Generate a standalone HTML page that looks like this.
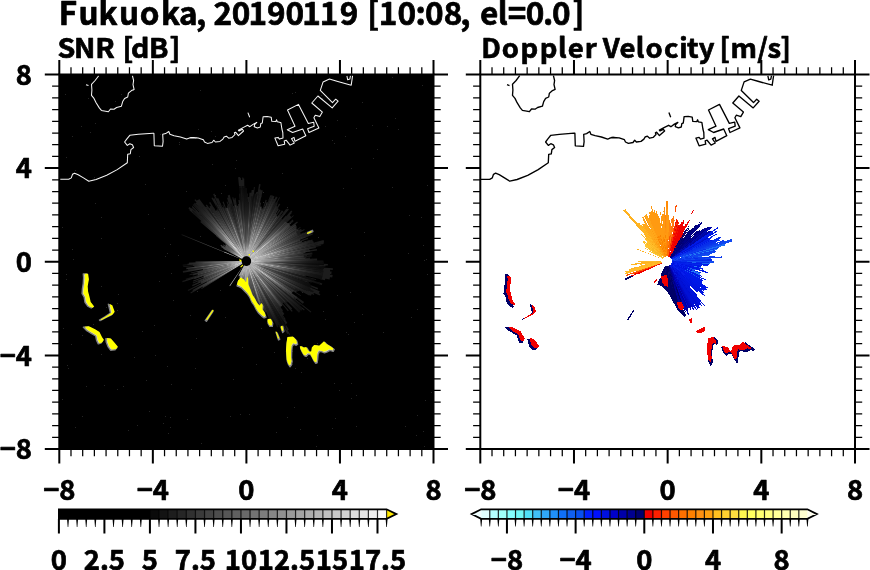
<!DOCTYPE html>
<html><head><meta charset="utf-8"><title>Fukuoka radar</title>
<style>html,body{margin:0;padding:0;background:#fff}svg{display:block}text{stroke:#000;stroke-width:.7px;stroke-linejoin:round}</style></head>
<body>
<svg width="870" height="570" viewBox="0 0 870 570" font-family='"Noto Sans CJK JP","Liberation Sans",sans-serif' font-weight="bold" fill="#000">
<rect width="870" height="570" fill="#fff"/>
<text transform="scale(0.99,1)" y="24.6" font-size="31.8" x="59.4 79.2 99.6 120.1 141.2 162.6 180.8 197.9 208.3 215.7 234.1 250.9 269.7 288.5 305.2 323.0 343.3 362.1 370.9 382.7 401.5 419.7 429.4 448.3 465.0 475.3 484.8 502.8 513.0 531.1 548.6 557.5 578.3">Fukuoka, 20190119 [10:08, el=0.0]</text>
<text transform="scale(1.05,1)" y="58.4" font-size="27.2" x="54.7 70.6 90.8 109.4 116.6 124.7 141.8 161.4">SNR [dB]</text>
<text transform="scale(1.01,1)" y="58.4" font-size="27.2" x="476.5 496.8 515.4 534.3 552.4 562.1 579.0 590.8 596.7 613.3 629.4 639.2 657.4 672.5 680.3 691.9 707.5 712.3 723.3 749.8 760.0 772.7">Doppler Velocity [m/s]</text>
<rect x="59.3" y="74.5" width="374.2" height="374.5" fill="#000"/>
<clipPath id="cl"><rect x="59.3" y="74.5" width="374.2" height="374.5"/></clipPath>
<clipPath id="cr"><rect x="480.3" y="74.5" width="374.7" height="374.5"/></clipPath>
<path d="M292,351h1v1h-1zM356,426h1v1h-1zM335,418h1v1h-1zM72,249h1v1h-1zM411,317h1v1h-1zM395,118h1v1h-1zM235,168h1v1h-1zM263,289h1v1h-1zM66,157h1v1h-1zM165,416h1v1h-1zM345,136h1v1h-1zM356,128h1v1h-1zM290,123h1v1h-1zM62,399h1v1h-1zM139,156h1v1h-1zM425,400h1v1h-1zM168,433h1v1h-1zM261,328h1v1h-1zM137,425h1v1h-1zM317,435h1v1h-1zM392,187h1v1h-1zM195,138h1v1h-1zM115,101h1v1h-1zM173,300h1v1h-1zM63,328h1v1h-1zM186,191h1v1h-1zM364,255h1v1h-1zM178,255h1v1h-1zM322,98h1v1h-1zM422,85h1v1h-1zM339,390h1v1h-1zM68,368h1v1h-1zM197,291h1v1h-1zM65,94h1v1h-1zM128,430h1v1h-1zM134,357h1v1h-1zM405,426h1v1h-1zM189,208h1v1h-1zM256,364h1v1h-1zM101,354h1v1h-1zM356,395h1v1h-1zM75,427h1v1h-1zM95,203h1v1h-1zM287,417h1v1h-1zM187,419h1v1h-1zM263,192h1v1h-1zM179,142h1v1h-1zM90,132h1v1h-1zM316,446h1v1h-1zM121,94h1v1h-1zM427,274h1v1h-1zM212,164h1v1h-1zM281,383h1v1h-1zM230,233h1v1h-1zM82,416h1v1h-1zM73,259h1v1h-1zM372,125h1v1h-1zM332,428h1v1h-1zM295,368h1v1h-1zM101,238h1v1h-1zM117,389h1v1h-1zM170,244h1v1h-1zM431,392h1v1h-1zM423,245h1v1h-1zM242,347h1v1h-1zM239,184h1v1h-1zM211,131h1v1h-1zM201,443h1v1h-1zM417,309h1v1h-1zM246,202h1v1h-1zM94,177h1v1h-1zM351,398h1v1h-1zM195,368h1v1h-1zM348,334h1v1h-1zM307,358h1v1h-1zM196,338h1v1h-1zM165,256h1v1h-1zM346,332h1v1h-1zM170,427h1v1h-1zM302,292h1v1h-1zM66,279h1v1h-1zM154,325h1v1h-1zM233,379h1v1h-1zM301,372h1v1h-1zM190,315h1v1h-1zM334,383h1v1h-1zM191,389h1v1h-1zM383,332h1v1h-1zM423,431h1v1h-1zM253,273h1v1h-1zM123,386h1v1h-1zM408,253h1v1h-1zM317,343h1v1h-1zM332,140h1v1h-1zM350,292h1v1h-1zM308,232h1v1h-1zM292,364h1v1h-1zM297,343h1v1h-1zM72,136h1v1h-1zM225,317h1v1h-1zM142,331h1v1h-1zM295,92h1v1h-1zM236,160h1v1h-1zM81,126h1v1h-1zM179,144h1v1h-1zM133,90h1v1h-1zM234,217h1v1h-1zM288,295h1v1h-1zM149,411h1v1h-1zM62,227h1v1h-1zM164,228h1v1h-1zM104,385h1v1h-1zM200,90h1v1h-1zM288,112h1v1h-1zM263,202h1v1h-1zM276,432h1v1h-1zM364,232h1v1h-1zM362,314h1v1h-1zM198,129h1v1h-1zM282,285h1v1h-1zM416,435h1v1h-1zM287,207h1v1h-1zM392,77h1v1h-1zM101,286h1v1h-1zM289,129h1v1h-1zM294,407h1v1h-1zM200,236h1v1h-1zM145,184h1v1h-1zM421,217h1v1h-1zM417,415h1v1h-1zM282,173h1v1h-1zM424,260h1v1h-1zM215,195h1v1h-1zM426,259h1v1h-1zM167,253h1v1h-1zM106,307h1v1h-1zM225,185h1v1h-1zM351,383h1v1h-1zM66,274h1v1h-1zM163,423h1v1h-1zM351,168h1v1h-1zM160,134h1v1h-1zM427,185h1v1h-1zM286,252h1v1h-1zM300,300h1v1h-1zM337,120h1v1h-1zM343,188h1v1h-1zM259,201h1v1h-1zM171,273h1v1h-1zM233,210h1v1h-1zM337,295h1v1h-1zM75,170h1v1h-1zM230,416h1v1h-1zM390,279h1v1h-1zM67,365h1v1h-1zM220,290h1v1h-1zM323,311h1v1h-1zM240,414h1v1h-1zM204,222h1v1h-1zM377,149h1v1h-1zM171,384h1v1h-1zM86,386h1v1h-1zM318,237h1v1h-1zM167,366h1v1h-1zM398,129h1v1h-1zM238,280h1v1h-1zM246,199h1v1h-1zM118,294h1v1h-1zM362,102h1v1h-1zM146,380h1v1h-1zM354,322h1v1h-1zM71,344h1v1h-1zM424,446h1v1h-1zM321,95h1v1h-1zM373,158h1v1h-1zM300,429h1v1h-1zM325,126h1v1h-1zM170,417h1v1h-1zM117,303h1v1h-1zM215,136h1v1h-1zM292,93h1v1h-1zM101,217h1v1h-1zM88,98h1v1h-1zM274,352h1v1h-1zM387,126h1v1h-1zM221,193h1v1h-1zM284,258h1v1h-1zM409,215h1v1h-1zM82,335h1v1h-1zM117,310h1v1h-1zM249,414h1v1h-1zM267,307h1v1h-1zM159,281h1v1h-1zM155,355h1v1h-1zM253,126h1v1h-1zM148,214h1v1h-1zM334,143h1v1h-1zM325,319h1v1h-1zM93,324h1v1h-1zM95,123h1v1h-1z" fill="#242424"/>
<g clip-path="url(#cl)">
<path d="M98.7,75.7 L95.1,80.5 L91.5,84.3 L91.9,90.0 L91.5,95.3 L94.0,98.4 L96.1,102.7 L99.3,107.9 L101.4,110.4 L108.4,111.7 L110.5,109.0 L114.0,109.2 L116.6,107.5 L121.4,106.2 L122.7,101.6 L124.6,98.4 L127.7,97.0 L128.4,93.2 L131.5,90.6 L134.1,89.4 L133.0,84.7 L133.6,80.5 L132.4,75.7 M86.0,84.7 L88.5,85.6 M59.9,179.3 L68.7,179.3 L71.3,177.9 L72.5,174.3 L74.6,173.2 L78.2,174.7 L83.5,177.9 L88.8,181.2 L96.1,179.5 L106.7,175.3 L117.2,169.6 L127.3,162.7 L127.7,154.3 L130.3,153.8 L130.9,149.6 L133.6,147.5 L132.4,144.8 L129.8,143.7 L127.3,145.4 L124.6,142.0 L126.7,139.1 L129.8,135.3 L138.3,134.3 L153.0,133.2 L153.9,133.2 L154.3,145.8 L162.5,146.3 L163.1,141.6 L162.7,134.3 L165.6,133.6 L168.8,131.5 L169.9,134.3 L174.1,135.7 L180.4,137.0 L186.7,139.1 L190.9,137.4 L197.2,137.8 L189.0,137.9 L192.4,137.4 L198.2,137.9 L203.4,139.7 L204.5,142.0 L207.4,143.4 L212.0,142.5 L213.7,140.2 L215.4,142.0 L220.0,141.4 L222.9,139.1 L224.1,137.0 L226.4,136.2 L228.7,138.2 L232.1,137.4 L235.0,134.5 L234.4,132.8 L235.6,132.2 L238.4,135.6 L243.6,131.0 L242.4,129.3 L239.0,131.0 L238.4,130.1 L243.0,127.6 L247.6,125.3 L249.9,126.7 L253.4,124.1 L256.8,122.4 L254.5,124.7 L254.3,126.7 L257.4,127.9 L260.3,127.0 L260.8,123.6 L262.3,123.0 L263.1,116.7 L267.2,116.4 L271.2,117.2 L271.8,121.3 L275.8,121.6 L276.6,119.8 L277.3,121.8 L280.4,122.4 L280.9,122.7 L281.9,129.0 L282.8,132.5 L283.0,138.1 L279.5,139.1 L278.1,137.4 L274.9,138.1 L278.1,145.8 L284.7,144.2 L284.2,140.9 L286.1,140.2 L290.1,145.1 L294.3,143.0 L291.5,138.8 L294.0,137.4 L295.0,141.3 L305.8,135.7 L302.7,129.0 L292.6,132.5 L287.3,129.7 L295.0,126.2 L287.5,110.0 L298.5,104.4 L308.3,123.4 L313.7,122.2 L314.2,126.2 L307.6,128.7 L309.0,132.5 L318.9,127.9 L313.9,117.8 L315.3,115.2 L319.8,116.6 L322.4,112.1 L311.8,103.0 L317.9,96.0 L332.2,107.9 L338.1,101.2 L335.7,99.2 L332.5,102.6 L320.3,90.4 L323.1,81.9 L329.4,79.1 L337.8,81.5 L351.2,85.2 L352.6,75.6 M247.9,112.6 L249.7,117.2 M346.9,75.9 L347.7,79.8 L349.8,79.1 L350.5,75.6" fill="none" stroke="#f4f4f4" stroke-width="1.05" stroke-linejoin="round"/>
</g>
<g clip-path="url(#cr)">
<path d="M519.7,75.7 L516.1,80.5 L512.5,84.3 L512.9,90.0 L512.5,95.3 L515.0,98.4 L517.1,102.7 L520.3,107.9 L522.4,110.4 L529.4,111.7 L531.5,109.0 L535.0,109.2 L537.6,107.5 L542.4,106.2 L543.7,101.6 L545.6,98.4 L548.7,97.0 L549.4,93.2 L552.5,90.6 L555.1,89.4 L554.0,84.7 L554.6,80.5 L553.4,75.7 M507.0,84.7 L509.5,85.6 M480.9,179.3 L489.7,179.3 L492.3,177.9 L493.5,174.3 L495.6,173.2 L499.2,174.7 L504.5,177.9 L509.8,181.2 L517.1,179.5 L527.7,175.3 L538.2,169.6 L548.3,162.7 L548.7,154.3 L551.3,153.8 L551.9,149.6 L554.6,147.5 L553.4,144.8 L550.8,143.7 L548.3,145.4 L545.6,142.0 L547.7,139.1 L550.8,135.3 L559.3,134.3 L574.0,133.2 L574.9,133.2 L575.3,145.8 L583.5,146.3 L584.1,141.6 L583.7,134.3 L586.6,133.6 L589.8,131.5 L590.9,134.3 L595.1,135.7 L601.4,137.0 L607.7,139.1 L611.9,137.4 L618.2,137.8 L610.0,137.9 L613.4,137.4 L619.2,137.9 L624.4,139.7 L625.5,142.0 L628.4,143.4 L633.0,142.5 L634.7,140.2 L636.4,142.0 L641.0,141.4 L643.9,139.1 L645.1,137.0 L647.4,136.2 L649.7,138.2 L653.1,137.4 L656.0,134.5 L655.4,132.8 L656.6,132.2 L659.4,135.6 L664.6,131.0 L663.4,129.3 L660.0,131.0 L659.4,130.1 L664.0,127.6 L668.6,125.3 L670.9,126.7 L674.4,124.1 L677.8,122.4 L675.5,124.7 L675.3,126.7 L678.4,127.9 L681.3,127.0 L681.8,123.6 L683.3,123.0 L684.1,116.7 L688.2,116.4 L692.2,117.2 L692.8,121.3 L696.8,121.6 L697.6,119.8 L698.3,121.8 L701.4,122.4 L701.9,122.7 L702.9,129.0 L703.8,132.5 L704.0,138.1 L700.5,139.1 L699.1,137.4 L695.9,138.1 L699.1,145.8 L705.7,144.2 L705.2,140.9 L707.1,140.2 L711.1,145.1 L715.3,143.0 L712.5,138.8 L715.0,137.4 L716.0,141.3 L726.8,135.7 L723.7,129.0 L713.6,132.5 L708.3,129.7 L716.0,126.2 L708.5,110.0 L719.5,104.4 L729.3,123.4 L734.7,122.2 L735.2,126.2 L728.6,128.7 L730.0,132.5 L739.9,127.9 L734.9,117.8 L736.3,115.2 L740.8,116.6 L743.4,112.1 L732.8,103.0 L738.9,96.0 L753.2,107.9 L759.1,101.2 L756.7,99.2 L753.5,102.6 L741.3,90.4 L744.1,81.9 L750.4,79.1 L758.8,81.5 L772.2,85.2 L773.6,75.6 M668.9,112.6 L670.7,117.2 M767.9,75.9 L768.7,79.8 L770.8,79.1 L771.5,75.6" fill="none" stroke="#000" stroke-width="1.35" stroke-linejoin="round"/>
</g>
<defs><radialGradient id="g0" gradientUnits="userSpaceOnUse" cx="246.4" cy="261.1" r="96"><stop offset="0.000" stop-color="#ffffff"/><stop offset="0.052" stop-color="#f5f5f5"/><stop offset="0.104" stop-color="#bcbcbc"/><stop offset="0.156" stop-color="#808080"/><stop offset="0.208" stop-color="#5a5a5a"/><stop offset="0.260" stop-color="#4f4f4f"/><stop offset="0.312" stop-color="#444444"/><stop offset="0.365" stop-color="#383838"/><stop offset="0.417" stop-color="#2e2e2e"/><stop offset="0.469" stop-color="#242424"/><stop offset="0.521" stop-color="#1d1d1d"/><stop offset="0.573" stop-color="#171717"/><stop offset="0.625" stop-color="#121212"/><stop offset="0.677" stop-color="#0e0e0e"/><stop offset="0.729" stop-color="#0b0b0b"/><stop offset="0.833" stop-color="#070707"/><stop offset="1.000" stop-color="#030303"/></radialGradient><radialGradient id="g1" gradientUnits="userSpaceOnUse" cx="246.4" cy="261.1" r="96"><stop offset="0.000" stop-color="#ffffff"/><stop offset="0.052" stop-color="#ffffff"/><stop offset="0.104" stop-color="#d6d6d6"/><stop offset="0.156" stop-color="#989898"/><stop offset="0.208" stop-color="#707070"/><stop offset="0.260" stop-color="#636363"/><stop offset="0.312" stop-color="#555555"/><stop offset="0.365" stop-color="#464646"/><stop offset="0.417" stop-color="#393939"/><stop offset="0.469" stop-color="#2e2e2e"/><stop offset="0.521" stop-color="#242424"/><stop offset="0.573" stop-color="#1c1c1c"/><stop offset="0.625" stop-color="#161616"/><stop offset="0.677" stop-color="#111111"/><stop offset="0.729" stop-color="#0e0e0e"/><stop offset="0.833" stop-color="#080808"/><stop offset="1.000" stop-color="#040404"/></radialGradient><radialGradient id="g2" gradientUnits="userSpaceOnUse" cx="246.4" cy="261.1" r="96"><stop offset="0.000" stop-color="#ffffff"/><stop offset="0.052" stop-color="#ffffff"/><stop offset="0.104" stop-color="#f0f0f0"/><stop offset="0.156" stop-color="#b1b1b1"/><stop offset="0.208" stop-color="#878787"/><stop offset="0.260" stop-color="#777777"/><stop offset="0.312" stop-color="#666666"/><stop offset="0.365" stop-color="#555555"/><stop offset="0.417" stop-color="#454545"/><stop offset="0.469" stop-color="#373737"/><stop offset="0.521" stop-color="#2c2c2c"/><stop offset="0.573" stop-color="#222222"/><stop offset="0.625" stop-color="#1b1b1b"/><stop offset="0.677" stop-color="#151515"/><stop offset="0.729" stop-color="#111111"/><stop offset="0.833" stop-color="#0a0a0a"/><stop offset="1.000" stop-color="#050505"/></radialGradient><radialGradient id="g3" gradientUnits="userSpaceOnUse" cx="246.4" cy="261.1" r="96"><stop offset="0.000" stop-color="#ffffff"/><stop offset="0.052" stop-color="#ffffff"/><stop offset="0.104" stop-color="#fafafa"/><stop offset="0.156" stop-color="#cacaca"/><stop offset="0.208" stop-color="#9e9e9e"/><stop offset="0.260" stop-color="#8b8b8b"/><stop offset="0.312" stop-color="#777777"/><stop offset="0.365" stop-color="#636363"/><stop offset="0.417" stop-color="#505050"/><stop offset="0.469" stop-color="#404040"/><stop offset="0.521" stop-color="#333333"/><stop offset="0.573" stop-color="#282828"/><stop offset="0.625" stop-color="#1f1f1f"/><stop offset="0.677" stop-color="#181818"/><stop offset="0.729" stop-color="#131313"/><stop offset="0.833" stop-color="#0c0c0c"/><stop offset="1.000" stop-color="#050505"/></radialGradient><radialGradient id="g4" gradientUnits="userSpaceOnUse" cx="246.4" cy="261.1" r="96"><stop offset="0.000" stop-color="#ffffff"/><stop offset="0.052" stop-color="#ffffff"/><stop offset="0.104" stop-color="#fafafa"/><stop offset="0.156" stop-color="#e2e2e2"/><stop offset="0.208" stop-color="#b4b4b4"/><stop offset="0.260" stop-color="#9f9f9f"/><stop offset="0.312" stop-color="#888888"/><stop offset="0.365" stop-color="#717171"/><stop offset="0.417" stop-color="#5c5c5c"/><stop offset="0.469" stop-color="#494949"/><stop offset="0.521" stop-color="#3a3a3a"/><stop offset="0.573" stop-color="#2e2e2e"/><stop offset="0.625" stop-color="#242424"/><stop offset="0.677" stop-color="#1c1c1c"/><stop offset="0.729" stop-color="#161616"/><stop offset="0.833" stop-color="#0e0e0e"/><stop offset="1.000" stop-color="#060606"/></radialGradient><radialGradient id="g5" gradientUnits="userSpaceOnUse" cx="246.4" cy="261.1" r="96"><stop offset="0.000" stop-color="#ffffff"/><stop offset="0.052" stop-color="#ffffff"/><stop offset="0.104" stop-color="#fafafa"/><stop offset="0.156" stop-color="#ebebeb"/><stop offset="0.208" stop-color="#cbcbcb"/><stop offset="0.260" stop-color="#b3b3b3"/><stop offset="0.312" stop-color="#999999"/><stop offset="0.365" stop-color="#7f7f7f"/><stop offset="0.417" stop-color="#676767"/><stop offset="0.469" stop-color="#535353"/><stop offset="0.521" stop-color="#424242"/><stop offset="0.573" stop-color="#333333"/><stop offset="0.625" stop-color="#282828"/><stop offset="0.677" stop-color="#202020"/><stop offset="0.729" stop-color="#191919"/><stop offset="0.833" stop-color="#101010"/><stop offset="1.000" stop-color="#070707"/></radialGradient><radialGradient id="g6" gradientUnits="userSpaceOnUse" cx="246.4" cy="261.1" r="96"><stop offset="0.000" stop-color="#ffffff"/><stop offset="0.052" stop-color="#ffffff"/><stop offset="0.104" stop-color="#fafafa"/><stop offset="0.156" stop-color="#ebebeb"/><stop offset="0.208" stop-color="#d7d7d7"/><stop offset="0.260" stop-color="#bebebe"/><stop offset="0.312" stop-color="#a2a2a2"/><stop offset="0.365" stop-color="#878787"/><stop offset="0.417" stop-color="#6e6e6e"/><stop offset="0.469" stop-color="#585858"/><stop offset="0.521" stop-color="#464646"/><stop offset="0.573" stop-color="#373737"/><stop offset="0.625" stop-color="#2b2b2b"/><stop offset="0.677" stop-color="#222222"/><stop offset="0.729" stop-color="#1b1b1b"/><stop offset="0.833" stop-color="#111111"/><stop offset="1.000" stop-color="#080808"/></radialGradient><radialGradient id="g7" gradientUnits="userSpaceOnUse" cx="246.4" cy="261.1" r="96"><stop offset="0.000" stop-color="#ffffff"/><stop offset="0.052" stop-color="#ffffff"/><stop offset="0.104" stop-color="#fafafa"/><stop offset="0.156" stop-color="#ebebeb"/><stop offset="0.208" stop-color="#d7d7d7"/><stop offset="0.260" stop-color="#bebebe"/><stop offset="0.312" stop-color="#a2a2a2"/><stop offset="0.365" stop-color="#878787"/><stop offset="0.417" stop-color="#6e6e6e"/><stop offset="0.469" stop-color="#585858"/><stop offset="0.521" stop-color="#464646"/><stop offset="0.573" stop-color="#373737"/><stop offset="0.625" stop-color="#2b2b2b"/><stop offset="0.677" stop-color="#222222"/><stop offset="0.729" stop-color="#1b1b1b"/><stop offset="0.833" stop-color="#111111"/><stop offset="1.000" stop-color="#080808"/></radialGradient></defs>
<g clip-path="url(#cl)">
<path d="M194.4,214.7L189.2,210.0L189.8,209.3L195.0,214.1ZM193.1,212.5L188.3,208.2L189.6,206.9L194.2,211.4ZM195.5,212.8L191.2,208.6L191.9,208.0L196.1,212.1ZM201.5,217.5L195.7,211.9L196.3,211.3L202.0,217.0ZM200.3,215.4L191.8,207.0L192.6,206.1L201.0,214.6ZM199.1,207.6L195.4,203.3L196.5,202.4L200.2,206.7ZM201.3,208.2L194.4,200.1L195.4,199.3L202.1,207.5ZM203.6,209.4L196.4,200.7L197.3,200.0L204.4,208.7ZM204.8,209.4L197.5,200.4L199.3,199.0L206.3,208.2ZM208.2,210.8L205.6,207.4L206.8,206.5L209.3,210.0ZM209.5,210.4L205.8,205.3L206.8,204.5L210.5,209.7ZM213.8,214.6L209.3,208.2L210.1,207.6L214.5,214.1ZM212.8,211.8L209.4,206.7L211.0,205.6L214.3,210.8ZM213.4,209.6L209.0,202.7L210.3,201.9L214.6,208.9ZM218.2,213.5L216.1,209.9L217.6,209.1L219.6,212.7ZM216.2,206.6L211.4,198.0L212.6,197.4L217.2,206.1ZM216.5,204.9L213.2,198.8L214.4,198.1L217.5,204.3ZM217.9,203.9L213.1,194.2L214.4,193.5L219.0,203.3ZM220.5,206.6L216.6,198.6L217.4,198.2L221.1,206.3ZM220.5,205.1L217.4,198.5L218.2,198.1L221.2,204.8ZM224.2,209.5L222.4,205.2L223.1,204.9L224.9,209.2ZM225.8,210.3L222.5,202.1L223.6,201.6L226.8,209.9ZM229.1,209.3L226.6,201.8L227.5,201.5L229.9,209.1ZM229.9,209.1L228.2,204.0L228.9,203.8L230.5,208.9ZM229.7,206.7L227.0,197.8L228.4,197.4L231.0,206.4ZM230.7,205.9L227.7,195.4L229.7,194.8L232.4,205.5ZM233.0,208.5L230.8,199.6L231.5,199.4L233.7,208.3ZM234.1,205.5L232.3,197.4L233.3,197.2L235.0,205.3ZM235.3,207.3L233.7,199.6L234.9,199.4L236.3,207.1ZM236.4,207.9L234.5,197.9L235.5,197.7L237.2,207.8ZM239.2,188.1L238.1,177.3L240.0,177.1L240.8,188.0ZM240.7,188.1L239.9,177.8L240.9,177.7L241.6,188.0ZM241.5,188.1L240.9,180.1L242.5,180.0L242.9,188.0ZM242.8,188.1L242.2,177.6L243.3,177.6L243.7,188.1ZM243.5,188.1L243.2,178.6L244.2,178.6L244.4,188.1ZM246.8,198.7L246.8,193.4L247.6,193.4L247.5,198.7ZM247.3,203.9L247.5,196.9L249.4,196.9L249.0,204.0ZM249.2,198.3L249.4,192.7L251.5,192.8L251.1,198.4ZM251.0,198.2L251.6,189.9L253.7,190.1L252.8,198.4ZM252.9,196.5L253.9,187.0L254.8,187.1L253.7,196.6ZM255.7,196.1L256.3,191.9L257.9,192.1L257.2,196.3ZM257.6,193.3L259.1,183.9L260.6,184.2L258.9,193.5ZM258.1,197.0L259.5,189.2L260.9,189.4L259.3,197.3ZM259.2,197.3L260.7,190.0L262.8,190.5L261.1,197.8ZM262.0,211.1L265.6,199.7L266.8,200.0L263.0,211.4ZM268.4,200.5L270.3,195.2L271.4,195.6L269.4,200.8ZM271.4,203.3L273.4,198.5L274.8,199.2L272.7,203.9ZM273.3,202.1L275.9,196.4L276.9,196.9L274.3,202.6ZM273.8,203.3L276.8,196.9L277.6,197.2L274.5,203.6ZM276.0,203.4L279.2,197.2L279.9,197.6L276.7,203.8ZM275.7,209.4L279.0,203.5L280.3,204.3L276.9,210.1ZM275.2,216.0L279.4,209.5L280.5,210.2L276.2,216.7ZM277.3,216.8L281.9,210.3L283.4,211.4L278.6,217.8ZM282.9,213.3L286.3,208.8L287.1,209.5L283.7,213.8ZM283.2,214.2L287.7,208.5L288.9,209.4L284.3,215.1ZM285.3,217.2L291.2,210.5L292.4,211.6L286.3,218.1ZM285.6,218.6L291.2,212.6L291.8,213.1L286.2,219.1ZM283.0,222.3L289.7,215.2L290.8,216.2L283.9,223.1ZM284.0,222.9L290.6,216.2L291.5,217.0L284.7,223.7ZM284.7,223.5L293.2,215.2L293.8,215.7L285.2,224.0ZM287.1,224.4L292.6,219.4L293.5,220.5L288.0,225.3ZM289.2,224.1L293.0,220.8L293.5,221.4L289.6,224.6ZM295.3,230.2L300.2,227.1L300.6,227.8L295.7,230.8ZM294.2,232.8L301.0,228.7L301.9,230.4L295.0,234.2ZM295.0,234.1L304.2,229.0L304.7,229.9L295.4,234.9ZM295.4,234.8L300.0,232.3L300.8,233.9L296.1,236.2ZM296.1,236.2L303.6,232.4L304.0,233.3L296.5,236.9ZM304.0,233.2L308.2,231.1L308.7,232.1L304.5,234.1ZM300.9,235.6L310.5,231.1L311.4,233.0L301.7,237.2ZM300.6,237.6L309.6,233.7L309.9,234.5L300.9,238.2ZM303.4,237.1L312.4,233.3L312.9,234.6L303.8,238.2ZM301.6,240.1L307.7,237.8L308.1,238.9L302.0,241.1ZM304.0,241.7L309.3,239.9L309.5,240.7L304.2,242.4ZM307.8,241.1L312.3,239.6L312.9,241.6L308.4,242.9ZM305.7,243.6L313.4,241.3L313.9,242.8L306.0,245.0ZM315.3,242.3L323.6,240.1L324.2,242.4L315.8,244.4ZM313.8,244.7L323.4,242.4L323.7,243.9L314.1,246.0ZM308.0,250.4L316.8,248.9L317.1,250.5L308.2,251.8ZM301.7,255.4L307.0,254.9L307.1,255.8L301.8,256.3ZM301.8,256.2L311.6,255.3L311.7,256.4L301.9,257.1ZM301.8,257.0L306.3,256.6L306.4,257.8L301.9,258.0ZM303.3,257.9L310.1,257.5L310.2,258.9L303.3,259.2ZM311.3,258.8L317.1,258.6L317.1,260.7L311.3,260.7ZM322.1,263.7L327.9,263.9L327.8,265.4L322.1,265.1ZM317.4,264.8L325.5,265.2L325.4,266.4L317.3,265.9ZM321.9,267.4L332.9,268.3L332.7,269.9L321.8,268.8ZM321.2,268.6L330.2,269.5L330.0,271.4L321.0,270.3ZM321.6,270.3L331.7,271.5L331.3,274.0L321.3,272.5ZM321.3,272.4L330.1,273.7L330.0,274.7L321.2,273.3ZM321.2,273.1L332.7,275.0L332.2,277.6L320.8,275.4ZM320.7,275.2L330.0,277.0L329.5,279.5L320.3,277.4ZM320.1,277.2L325.3,278.4L324.8,280.2L319.7,278.9ZM309.3,277.4L316.2,279.2L316.0,280.1L309.1,278.2ZM318.3,282.2L322.3,283.4L321.7,285.1L317.8,283.8ZM303.6,280.1L308.8,281.8L308.4,283.0L303.2,281.2ZM309.7,284.8L318.1,288.0L317.6,289.4L309.3,286.1ZM308.7,286.7L319.7,291.3L318.8,293.4L307.9,288.6ZM312.0,290.2L320.4,294.0L319.6,295.6L311.3,291.7ZM307.3,289.7L313.9,292.8L313.4,293.8L306.8,290.6ZM303.6,288.9L314.3,294.1L313.9,295.0L303.2,289.6ZM303.7,289.7L311.9,293.8L310.9,295.8L302.8,291.4ZM300.9,290.3L309.5,294.9L309.1,295.6L300.6,290.9ZM293.6,287.0L299.6,290.3L299.0,291.3L293.1,287.9ZM291.8,289.6L301.1,295.4L300.6,296.1L291.4,290.2ZM295.9,296.2L304.1,302.0L302.8,303.7L294.8,297.6ZM292.6,295.8L296.2,298.6L295.5,299.5L291.9,296.7ZM303.4,305.6L311.3,311.7L310.7,312.5L302.9,306.3ZM300.6,306.2L304.7,309.6L304.0,310.5L299.9,307.0ZM284.2,300.1L292.2,308.4L291.1,309.4L283.3,301.0ZM286.0,303.8L292.7,311.0L291.7,311.8L285.2,304.5ZM281.7,302.2L288.8,310.5L287.9,311.3L280.9,302.8ZM280.0,306.6L283.0,310.6L282.2,311.2L279.3,307.1ZM278.7,306.1L284.4,314.1L282.8,315.2L277.3,307.1ZM281.8,313.5L285.7,319.2L285.0,319.7L281.2,314.0ZM283.8,317.7L287.4,323.1L285.5,324.3L282.1,318.8ZM285.5,324.1L288.9,329.5L287.6,330.3L284.3,324.8ZM286.2,327.7L290.2,334.4L289.3,334.9L285.4,328.2ZM282.6,323.2L288.5,333.2L287.3,333.9L281.6,323.8Z" fill="#1c1c1c"/>
<path d="M242.4,259.0L223.1,248.7L223.4,248.2L242.5,258.9ZM242.5,258.9L221.1,247.0L221.5,246.2L242.5,258.8ZM242.5,258.8L220.4,245.6L220.7,245.0L242.6,258.7ZM242.6,258.7L220.8,245.1L221.0,244.8L242.6,258.7ZM242.6,258.7L223.3,246.3L223.5,246.1L242.6,258.6ZM242.6,258.6L225.4,247.4L225.6,247.1L242.7,258.6ZM242.7,258.6L225.2,246.8L225.3,246.5L242.7,258.5ZM242.7,258.5L222.9,244.9L223.3,244.4L242.8,258.5ZM242.7,258.5L225.2,245.9L225.5,245.5L242.8,258.4ZM242.8,258.4L225.7,245.7L226.0,245.3L242.8,258.3ZM242.9,258.2L216.0,236.1L216.4,235.7L243.0,258.2ZM244.2,257.2L215.2,204.9L216.3,204.3L244.3,257.1ZM244.6,257.0L223.4,207.7L224.1,207.4L244.7,256.9ZM245.2,256.8L230.2,204.0L231.9,203.6L245.3,256.7ZM245.3,256.7L232.5,206.5L233.2,206.3L245.3,256.7ZM246.0,256.6L239.0,186.1L240.7,186.0L246.1,256.6ZM246.2,256.6L243.5,186.1L244.4,186.1L246.3,256.6ZM246.3,256.6L244.2,186.1L245.4,186.1L246.3,256.6ZM246.3,256.6L245.3,188.1L247.0,188.1L246.4,256.6ZM246.4,256.6L246.8,196.7L247.6,196.7L246.5,256.6ZM246.5,256.6L247.4,201.9L249.1,202.0L246.6,256.6ZM246.9,256.6L253.1,194.5L253.9,194.6L246.9,256.6ZM249.1,257.5L280.5,215.1L281.2,215.7L249.1,257.5ZM249.3,257.6L281.5,218.3L282.7,219.4L249.4,257.7ZM250.9,261.3L324.1,263.7L324.0,265.2L250.9,261.3ZM250.8,262.2L311.2,277.9L311.0,278.7L250.7,262.3ZM250.7,262.3L314.7,279.6L314.3,281.1L250.7,262.4ZM250.6,262.6L310.7,283.7L310.2,285.1L250.6,262.7ZM250.6,262.7L311.6,285.5L311.1,286.8L250.6,262.8ZM250.6,262.8L313.1,287.4L312.6,288.5L250.6,262.8ZM250.4,263.1L305.4,289.8L305.0,290.5L250.4,263.1ZM249.9,263.9L300.9,304.5L299.9,305.7L249.9,264.0ZM249.6,264.2L288.0,301.8L286.8,303.0L249.5,264.3ZM248.8,264.9L286.6,325.8L285.3,326.6L248.7,265.0ZM248.7,265.0L283.6,324.9L282.6,325.5L248.6,265.0ZM248.6,265.0L283.4,326.6L282.6,327.0L248.6,265.0ZM247.5,265.5L256.7,301.1L256.1,301.2L247.5,265.5ZM247.4,265.5L255.7,303.1L255.0,303.2L247.3,265.5ZM247.3,265.5L254.5,300.3L253.3,300.5L247.2,265.5ZM247.2,265.5L253.0,298.2L252.4,298.3L247.1,265.5ZM247.1,265.5L251.9,294.8L251.1,294.9L247.0,265.6ZM247.0,265.6L251.5,297.4L251.0,297.5L247.0,265.6ZM247.0,265.6L250.9,296.8L250.4,296.9L246.9,265.6ZM246.6,265.6L247.5,290.8L247.0,290.8L246.5,265.6ZM245.8,265.6L243.2,284.6L242.8,284.6L245.7,265.5ZM245.6,265.5L242.2,283.5L241.9,283.4L245.5,265.5ZM245.4,265.5L242.1,279.8L241.7,279.7L245.3,265.5ZM244.7,265.3L239.7,278.1L239.3,278.0L244.7,265.2ZM244.7,265.2L240.1,276.2L239.8,276.1L244.6,265.2ZM244.5,265.2L239.7,275.7L239.6,275.6L244.5,265.2Z" fill="url(#g0)"/>
<path d="M242.8,258.3L225.4,244.9L225.9,244.3L242.9,258.2ZM243.7,257.5L207.0,209.2L208.2,208.4L243.8,257.5ZM245.1,256.8L229.1,204.8L230.4,204.5L245.2,256.8ZM245.4,256.7L233.7,203.5L234.6,203.4L245.5,256.7ZM245.6,256.7L236.0,206.0L236.9,205.8L245.6,256.7ZM246.1,256.6L241.4,186.1L242.8,186.0L246.2,256.6ZM246.2,256.6L242.7,186.1L243.6,186.1L246.2,256.6ZM246.7,256.6L251.1,196.2L253.0,196.4L246.9,256.6ZM246.9,256.6L253.5,196.9L254.3,197.0L247.0,256.6ZM247.0,256.6L256.0,194.1L257.5,194.3L247.1,256.7ZM250.9,261.5L323.9,267.5L323.8,269.0L250.9,261.6ZM250.7,262.5L305.5,280.7L305.1,281.8L250.6,262.6ZM250.3,263.3L298.0,290.6L297.1,292.1L250.2,263.4ZM249.5,264.4L287.4,305.2L286.5,306.0L249.4,264.5ZM249.4,264.5L283.4,302.4L282.4,303.2L249.3,264.5ZM249.3,264.5L283.0,303.7L282.1,304.4L249.3,264.6ZM248.6,265.0L283.1,327.7L281.8,328.4L248.5,265.1ZM248.3,265.2L274.1,320.3L272.3,321.1L248.2,265.2ZM248.2,265.2L273.7,324.1L272.7,324.5L248.1,265.3ZM247.6,265.4L259.4,308.1L258.5,308.4L247.5,265.5ZM246.0,265.6L244.1,285.5L243.4,285.4L245.8,265.6ZM245.7,265.5L243.1,283.0L242.8,283.0L245.7,265.5ZM245.0,265.4L240.5,278.8L240.3,278.7L244.9,265.3ZM242.6,263.5L201.7,289.1L201.2,288.2L242.5,263.4ZM242.4,263.2L207.2,282.3L206.8,281.5L242.4,263.2ZM242.3,262.8L193.1,283.5L192.7,282.4L242.2,262.8ZM242.1,262.4L186.0,280.0L185.6,278.8L242.1,262.4ZM242.0,261.8L188.1,270.4L187.9,269.0L241.9,261.7Z" fill="url(#g1)"/>
<path d="M243.0,258.2L200.2,222.1L201.4,220.8L243.0,258.1ZM244.5,257.0L219.6,204.8L220.3,204.5L244.5,257.0ZM244.9,256.9L226.8,205.7L227.9,205.3L245.0,256.8ZM245.0,256.8L229.3,207.2L229.9,207.0L245.1,256.8ZM245.3,256.7L233.0,206.1L234.3,205.8L245.4,256.7ZM245.6,256.7L236.8,205.9L238.5,205.6L245.8,256.6ZM245.9,256.6L239.0,193.7L239.8,193.6L246.0,256.6ZM246.9,256.6L254.6,193.4L256.2,193.6L247.0,256.6ZM247.9,256.9L269.1,198.6L270.1,198.9L248.0,256.9ZM248.4,257.1L275.0,202.3L276.4,202.9L248.5,257.1ZM248.8,257.3L276.3,214.3L277.3,215.0L248.9,257.4ZM249.1,257.5L284.1,211.7L284.9,212.3L249.2,257.6ZM249.3,257.7L285.8,215.7L286.3,216.2L249.4,257.7ZM249.4,257.7L286.7,215.7L287.7,216.6L249.5,257.8ZM249.5,257.8L287.0,217.2L287.5,217.7L249.5,257.8ZM249.5,257.8L284.4,220.8L285.3,221.7L249.6,257.9ZM250.9,261.1L323.9,261.6L323.8,263.9L250.9,261.3ZM250.7,262.5L311.9,281.8L311.5,282.8L250.7,262.5ZM250.6,262.8L310.6,287.5L309.8,289.4L250.5,262.9ZM250.5,262.9L313.8,291.0L313.1,292.6L250.5,263.0ZM250.5,263.0L309.1,290.5L308.6,291.5L250.4,263.1ZM250.4,263.2L302.7,291.2L302.3,291.9L250.3,263.3ZM249.7,264.1L300.2,309.8L299.6,310.4L249.7,264.2ZM249.1,264.7L281.2,308.2L280.4,308.7L249.0,264.8ZM249.0,264.8L279.9,307.7L278.5,308.7L248.9,264.8ZM248.7,265.0L287.2,329.4L286.4,329.9L248.7,265.0ZM248.1,265.3L270.5,318.8L269.2,319.3L248.0,265.3ZM248.0,265.3L266.4,312.0L264.9,312.6L247.9,265.3ZM247.7,265.4L258.9,303.4L258.1,303.7L247.6,265.4ZM247.5,265.5L256.9,304.4L255.9,304.6L247.4,265.5ZM246.9,265.6L250.2,294.4L249.2,294.5L246.8,265.6ZM245.9,265.6L243.5,285.1L243.1,285.1L245.8,265.6ZM245.7,265.5L242.7,283.8L242.1,283.7L245.6,265.5ZM245.5,265.5L242.4,281.0L241.8,280.8L245.4,265.5ZM245.3,265.5L241.2,281.7L240.8,281.6L245.2,265.4ZM242.4,263.2L188.3,291.1L187.7,290.0L242.4,263.1ZM242.4,263.1L201.3,283.4L200.8,282.3L242.3,263.0ZM242.3,263.0L192.6,286.3L192.0,284.9L242.3,262.9ZM242.1,262.3L192.9,275.5L192.7,274.4L242.0,262.2ZM242.0,262.2L189.6,275.3L189.4,274.5L242.0,262.1ZM242.0,262.1L197.6,272.7L197.3,271.8L242.0,262.1ZM242.0,262.1L191.2,273.2L191.0,272.4L242.0,262.0ZM241.9,261.6L194.4,267.0L194.3,266.0L241.9,261.5ZM241.9,261.5L183.4,267.1L183.3,266.2L241.9,261.5ZM241.9,261.4L182.8,265.6L182.7,264.7L241.9,261.4ZM241.9,261.4L187.6,264.5L187.5,263.7L241.9,261.3Z" fill="url(#g2)"/>
<path d="M243.0,258.1L192.9,213.4L193.5,212.7L243.1,258.1ZM243.1,258.1L191.7,211.2L192.8,210.0L243.1,258.0ZM243.2,257.9L198.8,213.9L199.6,213.2L243.3,257.9ZM243.9,257.4L211.7,210.1L213.2,209.1L244.0,257.3ZM244.0,257.3L212.3,208.0L213.6,207.2L244.1,257.3ZM244.1,257.2L217.2,211.8L218.7,210.9L244.2,257.2ZM244.4,257.1L217.7,204.9L218.4,204.6L244.4,257.1ZM244.5,257.0L219.6,203.3L220.4,203.0L244.6,257.0ZM244.6,257.0L222.2,207.4L223.2,206.9L244.6,257.0ZM244.7,256.9L225.1,208.5L226.1,208.1L244.8,256.9ZM245.0,256.8L228.5,207.4L229.3,207.2L245.0,256.8ZM245.8,256.6L238.1,204.0L239.0,203.9L245.8,256.6ZM245.8,256.6L238.4,200.1L239.8,199.9L245.9,256.6ZM246.6,256.6L249.3,196.3L251.2,196.4L246.7,256.6ZM247.2,256.7L258.5,195.1L259.7,195.3L247.3,256.7ZM247.4,256.7L259.9,202.4L261.2,202.7L247.5,256.7ZM247.6,256.8L261.3,208.2L262.9,208.6L247.7,256.8ZM248.5,257.1L276.9,201.6L277.6,202.0L248.5,257.1ZM248.6,257.2L276.7,207.6L277.9,208.3L248.7,257.2ZM249.0,257.4L278.5,215.2L279.8,216.2L249.1,257.5ZM249.2,257.6L284.5,212.7L285.5,213.5L249.3,257.6ZM250.4,259.1L297.9,235.3L298.3,236.1L250.5,259.1ZM250.5,259.2L302.7,234.8L303.5,236.4L250.5,259.3ZM250.6,259.5L303.5,239.4L303.9,240.5L250.6,259.6ZM250.9,260.5L312.2,252.5L312.5,254.4L250.9,260.6ZM250.9,260.8L303.8,256.8L303.9,257.9L250.9,260.9ZM250.9,261.3L319.4,264.9L319.3,266.0L250.9,261.4ZM250.9,261.4L324.0,266.2L323.9,267.7L250.9,261.5ZM250.9,261.6L323.2,268.8L323.0,270.6L250.9,261.7ZM250.8,261.9L322.7,275.6L322.2,277.8L250.8,262.1ZM250.8,262.1L322.1,277.7L321.7,279.4L250.8,262.2ZM250.7,262.4L320.3,282.8L319.7,284.4L250.7,262.5ZM250.3,263.3L295.4,288.0L294.9,288.9L250.3,263.3ZM249.9,264.0L302.1,307.5L301.4,308.3L249.8,264.0ZM249.8,264.0L302.6,309.2L301.2,310.8L249.7,264.1ZM249.7,264.2L300.5,311.1L299.0,312.7L249.6,264.3ZM249.5,264.3L285.6,301.6L284.6,302.5L249.5,264.4ZM248.9,264.9L284.9,319.4L283.1,320.5L248.8,264.9ZM248.5,265.1L281.1,326.8L279.6,327.6L248.4,265.1ZM248.4,265.1L278.4,324.8L277.6,325.2L248.4,265.1ZM248.4,265.1L278.5,326.8L277.2,327.4L248.3,265.2ZM247.9,265.3L263.5,308.4L262.6,308.7L247.8,265.4ZM246.8,265.6L249.2,294.6L248.2,294.7L246.6,265.6ZM246.2,265.6L245.0,288.5L244.6,288.5L246.1,265.6ZM245.2,265.4L240.9,281.5L240.6,281.4L245.2,265.4ZM245.2,265.4L240.9,280.6L240.5,280.5L245.1,265.4ZM245.1,265.4L240.7,280.0L240.3,279.9L245.0,265.4ZM245.0,265.4L240.6,279.3L240.4,279.2L245.0,265.4ZM244.9,265.3L240.2,278.1L240.0,278.0L244.8,265.3ZM244.4,265.1L238.9,276.3L238.7,276.2L244.4,265.1ZM242.5,263.4L203.1,287.2L202.8,286.6L242.5,263.4ZM242.5,263.4L190.9,293.6L190.3,292.5L242.5,263.3ZM242.5,263.3L193.0,291.1L192.4,290.1L242.4,263.2ZM242.3,262.9L198.6,282.1L198.2,281.2L242.2,262.8ZM242.2,262.7L193.2,281.6L192.9,280.8L242.2,262.7ZM242.2,262.7L203.7,276.9L203.3,275.9L242.1,262.6ZM242.1,262.5L182.6,282.3L182.2,281.0L242.1,262.4ZM242.1,262.4L197.9,275.3L197.6,274.1L242.1,262.3ZM242.0,262.0L203.2,270.0L203.0,268.9L242.0,261.9ZM242.0,261.9L183.1,272.7L182.8,271.1L242.0,261.8ZM241.9,261.2L195.6,262.6L195.5,261.6L241.9,261.1Z" fill="url(#g3)"/>
<path d="M244.1,257.3L215.7,211.0L216.5,210.5L244.1,257.2ZM244.3,257.1L215.5,203.1L216.6,202.5L244.4,257.1ZM244.4,257.1L217.0,202.1L218.2,201.5L244.5,257.0ZM244.7,256.9L224.5,208.6L225.2,208.4L244.7,256.9ZM246.1,256.6L240.6,186.1L241.5,186.0L246.1,256.6ZM247.7,256.8L262.6,209.2L263.6,209.5L247.8,256.8ZM248.0,256.9L271.4,195.0L272.7,195.5L248.1,256.9ZM248.3,257.0L274.6,201.5L275.4,201.8L248.4,257.1ZM248.5,257.1L276.9,203.1L277.8,203.6L248.6,257.2ZM248.6,257.1L276.4,205.9L277.5,206.5L248.6,257.2ZM248.7,257.2L277.8,208.3L278.8,208.9L248.8,257.3ZM249.9,258.3L297.1,221.4L297.9,222.4L250.0,258.4ZM250.4,259.0L297.1,233.8L297.9,235.4L250.4,259.1ZM250.9,260.9L313.3,258.7L313.3,260.7L250.9,261.1ZM250.9,261.1L323.4,260.5L323.4,261.7L250.9,261.1ZM250.9,261.6L323.6,270.5L323.3,272.8L250.8,261.8ZM250.8,262.2L305.9,275.4L305.6,276.6L250.8,262.2ZM250.4,263.1L305.5,290.6L304.6,292.4L250.4,263.2ZM250.2,263.4L296.6,291.7L296.1,292.5L250.2,263.5ZM250.2,263.5L293.6,291.4L293.0,292.3L250.1,263.6ZM249.9,263.9L305.0,306.8L304.4,307.5L249.9,263.9ZM249.3,264.6L282.7,304.8L282.1,305.3L249.2,264.6ZM248.9,264.8L283.0,315.2L282.3,315.6L248.9,264.9ZM246.4,265.6L246.3,286.3L245.8,286.3L246.3,265.6ZM244.9,265.4L240.3,278.7L240.0,278.6L244.9,265.3ZM244.8,265.3L239.7,278.8L239.4,278.7L244.7,265.3ZM244.6,265.2L239.7,276.4L239.4,276.3L244.5,265.2ZM244.4,265.1L238.9,275.9L238.6,275.8L244.3,265.1ZM241.9,261.5L193.1,265.5L193.0,264.8L241.9,261.4ZM242.2,259.4L181.5,235.0L181.8,234.2L242.2,259.4Z" fill="url(#g4)"/>
<path d="M243.2,258.0L200.1,216.1L200.6,215.6L243.2,257.9ZM243.3,257.9L192.5,205.0L193.4,204.2L243.3,257.8ZM243.8,257.5L208.3,208.8L209.3,208.0L243.8,257.4ZM245.5,256.7L234.9,205.3L236.0,205.1L245.6,256.7ZM247.1,256.7L257.9,191.3L259.2,191.5L247.2,256.7ZM247.3,256.7L259.6,195.4L261.5,195.8L247.4,256.7ZM248.8,257.3L275.7,213.7L276.4,214.2L248.8,257.3ZM249.6,257.9L285.4,221.5L286.1,222.3L249.6,258.0ZM249.6,257.9L286.1,222.1L286.6,222.6L249.7,258.0ZM250.1,258.5L296.0,225.8L297.0,227.3L250.1,258.6ZM250.2,258.7L297.0,229.2L297.4,229.8L250.2,258.7ZM250.3,258.9L296.8,233.1L297.2,233.9L250.4,259.0ZM250.4,259.1L305.8,232.3L306.3,233.2L250.5,259.2ZM250.5,259.4L305.2,236.3L305.7,237.4L250.6,259.4ZM250.6,259.4L299.9,239.7L300.3,240.7L250.6,259.5ZM250.7,259.7L305.9,241.0L306.1,241.8L250.7,259.7ZM250.8,260.3L309.1,249.1L309.3,250.3L250.8,260.3ZM250.9,260.6L303.7,255.2L303.8,256.1L250.9,260.7ZM250.9,260.7L303.8,256.0L303.8,256.9L250.9,260.8ZM250.9,260.8L305.3,257.8L305.3,259.1L250.9,260.9ZM250.0,263.8L294.2,297.0L293.5,297.9L249.9,263.9ZM249.2,264.6L282.4,305.5L281.1,306.6L249.1,264.7ZM249.1,264.7L281.0,306.2L280.1,306.9L249.1,264.7ZM247.9,265.4L263.2,310.3L262.4,310.5L247.8,265.4ZM247.8,265.4L262.2,309.7L260.8,310.2L247.7,265.4ZM246.7,265.6L248.1,290.8L247.4,290.9L246.6,265.6ZM246.5,265.6L247.0,290.6L246.6,290.6L246.4,265.6ZM246.4,265.6L246.6,289.0L246.3,289.0L246.4,265.6ZM246.1,265.6L244.7,287.0L243.9,287.0L246.0,265.6ZM242.2,262.8L203.8,278.1L203.6,277.5L242.2,262.7ZM242.1,262.6L194.3,279.1L194.0,278.4L242.1,262.5ZM241.9,261.7L186.4,269.3L186.2,267.8L241.9,261.6ZM241.9,261.3L188.9,263.8L188.9,262.7L241.9,261.2Z" fill="url(#g5)"/>
<path d="M243.1,258.0L194.1,211.4L194.7,210.7L243.2,258.0ZM243.5,257.6L202.3,207.9L203.1,207.2L243.6,257.6ZM243.6,257.6L203.5,207.9L205.1,206.6L243.7,257.5ZM244.8,256.9L226.0,208.1L227.6,207.6L244.9,256.9ZM247.9,256.8L266.7,202.0L267.8,202.4L247.9,256.9ZM248.2,257.0L272.2,201.4L273.5,202.0L248.3,257.0ZM248.3,257.0L274.2,200.3L275.1,200.8L248.3,257.0ZM248.9,257.4L276.5,216.1L277.0,216.5L248.9,257.4ZM248.9,257.4L277.0,216.4L277.5,216.7L249.0,257.4ZM249.7,258.0L287.8,222.7L288.4,223.3L249.7,258.1ZM249.9,258.3L290.2,225.6L290.9,226.4L249.9,258.3ZM250.2,258.7L298.2,229.2L298.8,230.2L250.3,258.8ZM250.5,259.3L302.5,236.8L302.7,237.5L250.5,259.4ZM250.6,259.6L301.8,241.1L302.3,242.3L250.7,259.7ZM250.7,259.7L309.7,240.5L310.3,242.4L250.7,259.8ZM250.7,259.8L307.6,243.0L308.0,244.4L250.7,259.9ZM250.8,260.0L315.7,244.3L316.0,245.6L250.8,260.1ZM250.8,260.3L310.0,250.1L310.2,251.5L250.8,260.4ZM250.9,260.5L303.4,253.0L303.5,253.7L250.9,260.5ZM250.8,261.8L323.3,272.7L323.1,273.6L250.8,261.8ZM250.8,261.8L323.2,273.5L322.8,275.7L250.8,261.9ZM250.2,263.5L293.4,290.7L293.1,291.2L250.2,263.5ZM250.1,263.6L292.5,291.9L292.0,292.6L250.1,263.7ZM250.1,263.7L292.0,292.5L291.5,293.2L250.1,263.7ZM250.1,263.7L297.5,297.3L296.4,298.8L250.0,263.8ZM246.3,265.6L245.8,287.4L245.0,287.4L246.2,265.6ZM244.5,265.2L239.6,275.6L239.3,275.4L244.4,265.1Z" fill="url(#g6)"/>
<path d="M243.2,257.9L198.5,212.3L199.1,211.7L243.3,257.8ZM243.3,257.8L193.3,204.3L195.0,202.7L243.4,257.7ZM243.4,257.7L197.8,206.1L198.9,205.2L243.5,257.7ZM243.5,257.7L200.0,206.7L200.9,206.0L243.5,257.6ZM243.8,257.4L212.7,213.0L213.4,212.5L243.9,257.4ZM247.5,256.7L260.2,206.4L261.8,206.8L247.6,256.8ZM247.8,256.8L264.3,207.1L265.0,207.3L247.9,256.8ZM248.1,256.9L272.5,195.6L274.5,196.4L248.2,257.0ZM249.6,258.0L286.6,222.5L287.3,223.3L249.7,258.0ZM249.7,258.1L288.6,223.0L289.5,224.0L249.8,258.2ZM249.8,258.2L290.7,222.8L291.2,223.3L249.8,258.2ZM249.8,258.2L289.3,224.8L290.1,225.7L249.9,258.3ZM250.0,258.4L295.3,224.2L296.4,225.6L250.1,258.5ZM250.1,258.6L296.0,227.8L296.9,229.3L250.2,258.7ZM250.3,258.8L295.9,231.8L296.7,233.3L250.3,258.9ZM250.7,259.9L317.2,241.8L317.7,243.9L250.8,260.0ZM250.8,260.1L321.0,244.4L321.3,245.8L250.8,260.2ZM250.8,260.2L315.7,246.8L316.0,247.9L250.8,260.3ZM250.8,260.4L305.3,252.1L305.4,252.9L250.9,260.5ZM242.2,259.4L224.1,252.2L224.3,251.8L242.3,259.4ZM242.0,267.8L230.0,286.2L229.4,285.8L241.9,267.7Z" fill="url(#g7)"/>
<circle cx="246.4" cy="261.1" r="4.8" fill="#000"/>
</g>
<g clip-path="url(#cr)" shape-rendering="crispEdges">
<path d="M663.4,259.0L651.4,252.6L651.6,252.2L663.5,258.9Z" fill="#fbc834"/>
<path d="M651.4,252.6L649.0,251.4L649.3,250.9L651.6,252.2ZM648.2,248.8L644.7,246.5L645.0,246.1L648.5,248.4Z" fill="#ffcb37"/>
<path d="M663.5,258.9L645.4,248.7L645.6,248.3L663.5,258.8Z" fill="#fbc330"/>
<path d="M663.5,258.8L653.6,253.0L653.8,252.6L663.6,258.7Z" fill="#fdc632"/>
<path d="M663.6,258.7L651.2,251.1L651.4,250.8L663.6,258.7Z" fill="#ffcc38"/>
<path d="M651.2,251.1L647.4,248.8L647.7,248.4L651.4,250.8ZM664.0,258.2L652.8,248.5L653.2,248.1L664.1,258.1Z" fill="#ffc633"/>
<path d="M663.6,258.7L648.2,248.8L648.5,248.4L663.7,258.6Z" fill="#f9bd2a"/>
<path d="M663.7,258.6L652.1,250.9L652.4,250.5L663.7,258.5Z" fill="#f8c02c"/>
<path d="M652.1,250.9L644.8,246.0L645.2,245.4L652.4,250.5Z" fill="#ffc532"/>
<path d="M663.7,258.5L648.6,247.9L648.8,247.5L663.8,258.4Z" fill="#f5bc28"/>
<path d="M648.6,247.9L644.8,245.2L645.1,244.7L648.8,247.5ZM651.9,249.4L642.4,242.2L642.8,241.7L652.1,249.1ZM653.6,250.0L642.9,241.3L643.3,240.9L653.8,249.7Z" fill="#ffc12e"/>
<path d="M663.8,258.4L647.9,246.9L648.2,246.5L663.8,258.4Z" fill="#fcbe2b"/>
<path d="M647.9,246.9L644.5,244.4L644.8,243.9L648.2,246.5Z" fill="#ffc734"/>
<path d="M663.8,258.4L651.9,249.4L652.1,249.1L663.9,258.3Z" fill="#f5ba27"/>
<path d="M663.9,258.3L654.2,250.7L654.3,250.5L663.9,258.3Z" fill="#f8b623"/>
<path d="M654.2,250.7L645.6,244.0L645.9,243.7L654.3,250.5ZM646.5,243.7L643.9,241.5L644.3,241.0L646.9,243.3Z" fill="#ffc330"/>
<path d="M663.9,258.3L653.6,250.0L653.8,249.7L664.0,258.2Z" fill="#fdbb28"/>
<path d="M663.9,258.2L646.5,243.7L646.9,243.3L664.0,258.1Z" fill="#f7b825"/>
<path d="M652.8,248.5L646.9,243.4L647.4,242.9L653.2,248.1ZM655.7,250.1L652.5,247.1L652.7,246.8L655.9,249.9ZM653.9,247.7L645.1,238.9L645.5,238.6L654.1,247.5Z" fill="#ffbf2c"/>
<path d="M664.1,258.1L653.2,248.3L653.5,248.0L664.1,258.0Z" fill="#fcb825"/>
<path d="M653.2,248.3L646.8,242.4L647.1,242.0L653.5,248.0Z" fill="#ffc32f"/>
<path d="M664.1,258.0L655.7,250.1L655.9,249.9L664.2,258.0ZM661.7,262.9L625.1,274.3L624.7,273.3L661.6,262.7Z" fill="#ffbb29"/>
<path d="M664.2,258.0L648.9,243.3L649.3,242.9L664.2,257.9Z" fill="#fdb724"/>
<path d="M648.9,243.3L645.2,239.7L645.6,239.3L649.3,242.9Z" fill="#ffbe2b"/>
<path d="M664.2,257.9L653.9,247.7L654.1,247.5L664.3,257.9Z" fill="#ffbd2b"/>
<path d="M664.3,257.9L654.7,248.2L655.0,247.9L664.3,257.8Z" fill="#ffb927"/>
<path d="M654.7,248.2L640.6,233.7L641.1,233.1L655.0,247.9Z" fill="#ffc02d"/>
<path d="M664.3,257.8L656.2,249.3L656.5,249.0L664.4,257.8Z" fill="#fab01d"/>
<path d="M656.2,249.3L645.7,238.2L646.2,237.7L656.5,249.0ZM664.5,257.7L652.2,243.2L652.5,243.0L664.5,257.6Z" fill="#ffba28"/>
<path d="M664.4,257.8L652.4,244.6L652.6,244.4L664.4,257.7Z" fill="#f5a715"/>
<path d="M652.4,244.6L646.0,237.7L646.4,237.4L652.6,244.4Z" fill="#ffb725"/>
<path d="M664.4,257.7L650.6,242.3L651.2,241.8L664.5,257.7Z" fill="#ffb826"/>
<path d="M650.6,242.3L643.7,234.5L644.4,233.8L651.2,241.8Z" fill="#ffb322"/>
<path d="M652.2,243.2L632.3,219.7L632.9,219.2L652.5,243.0Z" fill="#ffbd2a"/>
<path d="M664.5,257.6L652.2,242.7L652.6,242.4L664.6,257.6Z" fill="#fcaf1d"/>
<path d="M652.2,242.7L633.3,219.8L634.1,219.2L652.6,242.4Z" fill="#ffb221"/>
<path d="M664.6,257.6L653.0,243.0L653.3,242.7L664.7,257.5ZM661.4,261.8L630.3,265.3L630.2,264.6L661.4,261.7Z" fill="#ffb624"/>
<path d="M653.0,243.0L637.1,223.1L637.9,222.5L653.3,242.7ZM655.0,244.4L640.6,225.0L641.3,224.4L655.3,244.2ZM661.5,262.1L643.9,265.1L643.9,264.7L661.5,262.0Z" fill="#ffb926"/>
<path d="M664.7,257.5L653.6,243.2L654.0,243.0L664.7,257.5ZM661.7,263.0L636.8,271.4L636.6,270.7L661.7,262.9Z" fill="#ffb523"/>
<path d="M653.6,243.2L638.5,223.6L639.3,223.0L654.0,243.0Z" fill="#ffb120"/>
<path d="M664.7,257.5L655.0,244.4L655.3,244.2L664.8,257.4Z" fill="#f5a413"/>
<path d="M664.8,257.4L656.7,246.1L656.9,245.9L664.8,257.4Z" fill="#ffb021"/>
<path d="M656.7,246.1L642.2,225.8L642.7,225.5L656.9,245.9ZM658.4,247.1L643.6,224.3L644.4,223.9L658.6,246.9Z" fill="#ffaa1c"/>
<path d="M664.8,257.4L651.8,238.7L652.3,238.4L664.9,257.4Z" fill="#fea819"/>
<path d="M651.8,238.7L641.4,223.7L642.1,223.2L652.3,238.4Z" fill="#ffaf1f"/>
<path d="M664.9,257.4L652.3,238.6L652.8,238.3L665.0,257.3Z" fill="#fca718"/>
<path d="M652.3,238.6L642.8,224.5L643.5,224.0L652.8,238.3Z" fill="#ffa71a"/>
<path d="M665.0,257.3L658.4,247.1L658.6,246.9L665.0,257.3Z" fill="#ffa81b"/>
<path d="M665.0,257.3L655.8,242.4L656.1,242.1L665.1,257.2Z" fill="#ff9d12"/>
<path d="M655.8,242.4L644.2,223.9L645.0,223.4L656.1,242.1ZM654.0,238.8L642.6,219.6L643.2,219.2L654.4,238.6ZM657.8,243.6L650.0,229.3L650.8,228.9L658.3,243.4Z" fill="#ffa91b"/>
<path d="M665.1,257.2L654.0,238.8L654.4,238.6L665.1,257.2Z" fill="#fe9d11"/>
<path d="M665.1,257.2L659.2,246.9L659.6,246.7L665.2,257.1ZM665.2,257.2L657.8,243.6L658.3,243.4L665.3,257.1Z" fill="#ff9b10"/>
<path d="M659.2,246.9L642.1,217.6L643.3,216.9L659.6,246.7Z" fill="#ffa518"/>
<path d="M665.3,257.1L659.8,246.3L660.1,246.2L665.4,257.1Z" fill="#ff970d"/>
<path d="M659.8,246.3L644.0,216.0L644.9,215.5L660.1,246.2ZM659.0,237.8L649.7,212.1L651.0,211.6L659.6,237.6Z" fill="#ff9b11"/>
<path d="M665.4,257.1L659.7,245.5L660.1,245.3L665.5,257.0Z" fill="#f78800"/>
<path d="M659.7,245.5L644.7,215.4L646.0,214.8L660.1,245.3Z" fill="#ffa81a"/>
<path d="M665.5,257.0L657.0,238.9L657.5,238.7L665.6,257.0Z" fill="#ff9d13"/>
<path d="M657.0,238.9L645.8,214.7L646.7,214.2L657.5,238.7Z" fill="#ffa317"/>
<path d="M665.6,257.0L657.8,239.4L658.2,239.2L665.7,257.0Z" fill="#fa8d05"/>
<path d="M657.8,239.4L648.3,218.3L649.2,217.9L658.2,239.2Z" fill="#ffa418"/>
<path d="M665.6,257.0L657.4,237.5L658.1,237.3L665.8,256.9Z" fill="#f98600"/>
<path d="M657.4,237.5L648.5,216.6L649.7,216.1L658.1,237.3ZM660.0,242.4L649.3,215.3L650.0,215.0L660.3,242.3ZM658.1,236.6L648.9,212.5L649.9,212.2L658.6,236.4ZM659.1,236.3L650.8,211.5L652.2,211.0L659.8,236.1ZM662.2,244.3L650.7,206.7L651.8,206.4L662.6,244.2ZM659.7,234.3L653.7,213.4L654.6,213.2L660.2,234.1ZM662.1,241.3L653.6,210.0L654.7,209.7L662.5,241.2ZM662.5,241.5L655.7,214.4L656.6,214.2L662.9,241.5ZM663.6,244.6L655.9,211.6L656.9,211.3L663.9,244.5ZM662.5,238.4L657.7,215.7L658.6,215.5L663.0,238.3ZM662.8,237.6L658.9,217.8L659.6,217.7L663.2,237.5ZM662.6,235.1L661.3,228.0L662.0,227.8L663.2,235.0ZM664.6,244.1L660.4,218.8L661.3,218.7L664.9,244.1ZM664.0,238.3L660.2,212.5L661.0,212.4L664.4,238.2ZM664.5,239.5L662.8,226.8L663.3,226.8L664.8,239.5ZM664.9,240.5L661.8,215.4L662.5,215.3L665.2,240.5ZM665.7,244.0L662.8,213.7L663.7,213.6L666.1,244.0ZM665.3,235.4L663.4,210.7L664.1,210.6L665.7,235.4ZM666.4,239.0L665.7,222.3L666.3,222.2L666.8,239.0ZM667.1,239.1L666.6,205.0L668.2,205.0L667.7,239.1ZM667.6,245.0L667.9,214.7L668.8,214.7L667.9,245.0ZM668.0,238.7L668.8,211.6L669.5,211.6L668.4,238.7Z" fill="#ff9a11"/>
<path d="M665.7,256.9L660.0,242.4L660.3,242.3L665.8,256.9Z" fill="#f58400"/>
<path d="M665.8,256.9L658.1,236.6L658.6,236.4L665.9,256.9Z" fill="#fc8902"/>
<path d="M665.9,256.9L659.0,237.8L659.6,237.6L666.0,256.8Z" fill="#ff910b"/>
<path d="M666.0,256.8L659.1,236.3L659.8,236.1L666.1,256.8ZM666.9,256.6L665.4,242.6L665.6,242.6L667.0,256.6ZM667.2,256.6L666.4,239.0L666.8,239.0L667.3,256.6Z" fill="#ff8d07"/>
<path d="M666.1,256.8L662.2,244.3L662.6,244.2L666.2,256.8Z" fill="#fe8903"/>
<path d="M666.2,256.8L659.7,234.3L660.2,234.1L666.2,256.8Z" fill="#f88300"/>
<path d="M666.2,256.8L662.1,241.3L662.5,241.2L666.3,256.7ZM666.5,256.7L662.8,237.6L663.2,237.5L666.6,256.7ZM667.0,256.6L665.3,235.4L665.7,235.4L667.1,256.6Z" fill="#fa8500"/>
<path d="M666.3,256.7L662.5,241.5L662.9,241.5L666.4,256.7Z" fill="#ff920c"/>
<path d="M666.4,256.7L663.6,244.6L663.9,244.5L666.5,256.7ZM666.9,256.6L664.9,240.5L665.2,240.5L666.9,256.6Z" fill="#ff930d"/>
<path d="M666.5,256.7L662.5,238.4L663.0,238.3L666.5,256.7Z" fill="#ff8e08"/>
<path d="M666.6,256.7L662.6,235.1L663.2,235.0L666.7,256.7Z" fill="#ff8b05"/>
<path d="M666.7,256.7L664.6,244.1L664.9,244.1L666.8,256.6ZM666.8,256.6L664.5,239.5L664.8,239.5L666.9,256.6ZM667.0,256.6L665.7,244.0L666.1,244.0L667.1,256.6ZM666.3,209.1L666.1,201.1L667.6,201.1L667.6,209.1Z" fill="#ff8a04"/>
<path d="M666.7,256.6L664.0,238.3L664.4,238.2L666.8,256.6Z" fill="#f58000"/>
<path d="M665.4,242.6L662.2,213.8L662.9,213.7L665.6,242.6Z" fill="#ff9710"/>
<path d="M667.1,256.6L666.0,240.8L666.3,240.7L667.2,256.6Z" fill="#fc8701"/>
<path d="M666.0,240.8L663.8,207.3L664.6,207.2L666.3,240.7Z" fill="#ff9310"/>
<path d="M667.2,256.6L666.4,244.0L666.7,244.0L667.2,256.6Z" fill="#ff8508"/>
<path d="M666.4,244.0L664.4,207.2L665.2,207.2L666.7,244.0Z" fill="#ff890f"/>
<path d="M667.3,256.6L666.7,239.7L667.2,239.7L667.4,256.6Z" fill="#f98400"/>
<path d="M666.7,239.7L665.7,207.1L666.8,207.1L667.2,239.7Z" fill="#ff9610"/>
<path d="M667.3,256.6L667.1,239.1L667.7,239.1L667.5,256.6Z" fill="#ff7a08"/>
<path d="M667.4,256.6L667.6,245.0L667.9,245.0L667.5,256.6Z" fill="#fd6800"/>
<path d="M667.5,256.6L668.0,238.7L668.4,238.7L667.6,256.6Z" fill="#f86600"/>
<path d="M667.6,256.6L668.2,240.4L668.5,240.5L667.6,256.6Z" fill="#ff6c07"/>
<path d="M668.2,240.4L669.0,220.4L669.7,220.5L668.5,240.5Z" fill="#ff9010"/>
<path d="M667.6,256.6L668.5,241.2L668.9,241.2L667.7,256.6Z" fill="#ff820b"/>
<path d="M668.5,241.2L669.6,220.1L670.4,220.2L668.9,241.2Z" fill="#ff840f"/>
<path d="M667.7,256.6L669.1,236.3L669.6,236.3L667.8,256.6Z" fill="#fa6600"/>
<path d="M669.1,236.3L670.1,222.7L670.9,222.7L669.6,236.3Z" fill="#ff8a0f"/>
<path d="M667.8,256.6L669.5,237.4L670.0,237.5L667.9,256.6Z" fill="#fc5400"/>
<path d="M669.5,237.4L671.1,219.4L671.9,219.5L670.0,237.5Z" fill="#ff820f"/>
<path d="M667.9,256.6L669.6,240.4L669.9,240.5L667.9,256.6Z" fill="#ff5b01"/>
<path d="M669.6,240.4L670.8,229.2L671.2,229.2L669.9,240.5Z" fill="#ff830f"/>
<path d="M667.9,256.6L670.6,233.9L671.0,233.9L668.0,256.6Z" fill="#fc6400"/>
<path d="M670.6,233.9L672.8,215.0L673.5,215.0L671.0,233.9Z" fill="#ff730e"/>
<path d="M668.0,256.6L670.0,241.0L670.6,241.1L668.1,256.7Z" fill="#ff6404"/>
<path d="M670.0,241.0L673.3,215.8L674.5,216.0L670.6,241.1Z" fill="#ff7c0e"/>
<path d="M668.1,256.7L670.0,244.6L670.3,244.7L668.2,256.7Z" fill="#ff5a05"/>
<path d="M670.0,244.6L673.7,220.3L674.6,220.4L670.3,244.7Z" fill="#ff780e"/>
<path d="M668.2,256.7L670.7,242.1L671.0,242.2L668.2,256.7Z" fill="#fa4e00"/>
<path d="M670.7,242.1L671.8,235.6L672.2,235.7L671.0,242.2Z" fill="#f84a0e"/>
<path d="M668.2,256.7L671.6,238.6L672.2,238.7L668.3,256.7Z" fill="#f33500"/>
<path d="M671.6,238.6L674.0,225.8L674.9,226.0L672.2,238.7Z" fill="#ff5800"/>
<path d="M668.3,256.7L672.7,236.2L673.3,236.3L668.4,256.7Z" fill="#ff3906"/>
<path d="M672.7,236.2L676.2,219.2L677.4,219.5L673.3,236.3Z" fill="#f41900"/>
<path d="M668.4,256.7L671.3,244.6L671.6,244.6L668.5,256.7Z" fill="#f21800"/>
<path d="M671.3,244.6L677.1,220.1L677.7,220.3L671.6,244.6Z" fill="#fb3e00"/>
<path d="M668.5,256.7L671.3,245.5L671.6,245.6L668.6,256.8Z" fill="#f20501"/>
<path d="M671.3,245.5L677.5,220.7L678.3,221.0L671.6,245.6ZM675.0,236.3L678.6,224.7L679.2,224.8L675.4,236.4ZM672.7,244.8L678.4,226.9L678.9,227.1L672.9,244.8ZM675.9,237.0L681.3,222.0L682.3,222.4L676.6,237.2ZM675.6,239.6L683.3,219.5L684.4,220.0L676.2,239.8ZM675.5,241.3L683.7,221.5L684.5,221.8L675.9,241.4ZM678.4,235.6L682.5,226.2L683.4,226.6L679.1,235.9ZM674.4,245.9L683.4,226.3L684.4,226.7L674.8,246.1ZM674.8,246.0L685.9,223.5L686.9,224.0L675.2,246.2ZM675.4,245.8L688.8,220.0L689.9,220.6L675.8,246.0ZM678.3,241.3L682.4,233.9L683.0,234.2L678.7,241.5ZM661.9,263.5L638.5,274.0L638.3,273.4L661.9,263.4ZM661.9,263.5L630.2,277.0L629.8,276.0L661.8,263.3ZM661.8,263.3L634.4,274.3L634.2,273.7L661.8,263.2ZM691.0,213.7L692.8,210.1L693.9,210.6L692.0,214.2Z" fill="#f00000"/>
<path d="M668.6,256.8L674.1,236.1L674.8,236.3L668.7,256.8Z" fill="#f80908"/>
<path d="M674.1,236.1L678.0,221.5L679.1,221.8L674.8,236.3Z" fill="#f72900"/>
<path d="M668.7,256.8L672.3,244.4L672.6,244.5L668.7,256.8ZM668.9,256.9L675.9,237.0L676.6,237.2L669.0,256.9Z" fill="#ee0000"/>
<path d="M672.3,244.4L677.5,226.7L678.1,226.8L672.6,244.5Z" fill="#f20d00"/>
<path d="M668.7,256.8L675.0,236.3L675.4,236.4L668.8,256.8Z" fill="#ed0000"/>
<path d="M668.8,256.8L672.7,244.8L672.9,244.8L668.8,256.8Z" fill="#f80b07"/>
<path d="M668.8,256.8L674.3,240.6L674.7,240.7L668.9,256.9Z" fill="#f70707"/>
<path d="M674.3,240.6L679.9,223.9L680.6,224.1L674.7,240.7Z" fill="#f31400"/>
<path d="M669.0,256.9L675.6,239.6L676.2,239.8L669.1,256.9Z" fill="#e90000"/>
<path d="M669.1,256.9L675.5,241.3L675.9,241.4L669.2,257.0Z" fill="#f30303"/>
<path d="M669.2,257.0L678.4,235.6L679.1,235.9L669.3,257.0Z" fill="#ef0000"/>
<path d="M669.3,257.0L674.4,245.9L674.8,246.1L669.4,257.1Z" fill="#eb0000"/>
<path d="M669.4,257.1L674.8,246.0L675.2,246.2L669.5,257.1Z" fill="#f80808"/>
<path d="M669.5,257.1L675.4,245.8L675.8,246.0L669.6,257.2Z" fill="#f50505"/>
<path d="M669.6,257.2L678.3,241.3L678.7,241.5L669.7,257.2ZM667.0,265.6L665.2,283.8L664.6,283.7L666.9,265.6ZM665.9,265.3L661.0,278.9L660.7,278.8L665.8,265.3ZM665.6,265.2L661.0,276.3L660.7,276.2L665.6,265.2Z" fill="#010169"/>
<path d="M669.6,257.2L676.3,245.6L676.6,245.8L669.7,257.2Z" fill="#ea0000"/>
<path d="M676.3,245.6L685.2,230.2L685.8,230.6L676.6,245.8Z" fill="#000071"/>
<path d="M669.7,257.2L681.2,238.1L681.6,238.4L669.8,257.3Z" fill="#01016e"/>
<path d="M681.2,238.1L688.8,225.4L689.5,225.8L681.6,238.4ZM681.1,242.9L692.4,227.8L693.1,228.3L681.5,243.2Z" fill="#000072"/>
<path d="M669.8,257.3L680.5,240.1L680.9,240.4L669.9,257.3Z" fill="#070770"/>
<path d="M680.5,240.1L685.3,232.3L685.9,232.7L680.9,240.4Z" fill="#540043"/>
<path d="M669.8,257.3L680.5,240.9L680.9,241.2L669.9,257.4Z" fill="#070771"/>
<path d="M680.5,240.9L688.7,228.2L689.4,228.6L680.9,241.2ZM668.4,265.5L673.4,287.6L673.0,287.7L668.3,265.5Z" fill="#000069"/>
<path d="M669.9,257.4L677.3,246.3L677.6,246.5L670.0,257.4Z" fill="#08087c"/>
<path d="M677.3,246.3L682.7,238.3L683.2,238.7L677.6,246.5ZM668.6,265.4L674.7,287.9L674.3,288.0L668.5,265.5Z" fill="#00006d"/>
<path d="M670.0,257.4L680.2,242.7L680.6,243.0L670.1,257.5Z" fill="#040477"/>
<path d="M680.2,242.7L689.3,229.7L690.0,230.2L680.6,243.0ZM670.2,257.6L678.5,247.3L678.7,247.5L670.3,257.6Z" fill="#000075"/>
<path d="M670.0,257.5L680.2,243.5L680.5,243.7L670.1,257.5ZM670.3,257.7L683.1,242.5L683.4,242.8L670.4,257.7Z" fill="#000076"/>
<path d="M680.2,243.5L689.5,230.5L690.2,231.0L680.5,243.7Z" fill="#000077"/>
<path d="M670.1,257.5L681.1,242.9L681.5,243.2L670.2,257.6Z" fill="#00007b"/>
<path d="M670.2,257.6L679.5,245.6L679.8,245.9L670.2,257.6Z" fill="#040481"/>
<path d="M679.5,245.6L695.3,225.3L696.0,225.9L679.8,245.9ZM668.5,265.5L672.1,280.2L671.7,280.3L668.4,265.5Z" fill="#00006e"/>
<path d="M678.5,247.3L696.3,225.2L696.9,225.7L678.7,247.5Z" fill="#000082"/>
<path d="M670.3,257.6L685.1,239.8L685.4,240.0L670.3,257.7Z" fill="#090989"/>
<path d="M685.1,239.8L700.1,221.6L700.7,222.1L685.4,240.0ZM683.8,243.3L691.2,235.3L691.8,235.8L684.2,243.6Z" fill="#000083"/>
<path d="M683.1,242.5L697.9,225.2L698.4,225.7L683.4,242.8ZM670.5,257.8L686.4,241.2L686.8,241.6L670.6,257.9ZM674.7,287.9L678.8,303.1L678.2,303.3L674.3,288.0Z" fill="#00007f"/>
<path d="M670.4,257.7L678.1,248.8L678.4,249.0L670.4,257.8Z" fill="#03037e"/>
<path d="M678.1,248.8L701.8,221.6L702.6,222.3L678.4,249.0Z" fill="#000086"/>
<path d="M670.4,257.8L683.7,243.0L684.0,243.2L670.5,257.8ZM686.4,241.2L697.0,230.1L697.7,230.7L686.8,241.6Z" fill="#00007a"/>
<path d="M683.7,243.0L702.1,222.5L702.7,223.1L684.0,243.2ZM684.8,246.8L708.5,227.3L709.0,227.9L685.0,247.1Z" fill="#000088"/>
<path d="M670.5,257.8L683.8,243.3L684.2,243.6L670.5,257.9Z" fill="#010183"/>
<path d="M670.6,257.9L680.2,248.1L680.4,248.3L670.6,258.0Z" fill="#00007d"/>
<path d="M680.2,248.1L697.4,230.9L697.8,231.3L680.4,248.3ZM676.8,287.0L685.8,311.6L684.7,312.0L676.3,287.2Z" fill="#000087"/>
<path d="M670.6,257.9L687.1,241.7L687.4,242.0L670.7,258.0Z" fill="#050587"/>
<path d="M687.1,241.7L691.0,237.8L691.4,238.2L687.4,242.0Z" fill="#000192"/>
<path d="M670.6,258.0L679.3,249.6L679.7,249.9L670.7,258.1ZM679.8,250.5L708.1,226.3L708.8,227.2L680.0,250.8Z" fill="#00008b"/>
<path d="M679.3,249.6L699.8,230.0L700.6,230.9L679.7,249.9Z" fill="#000085"/>
<path d="M670.7,258.1L687.4,242.7L687.8,243.2L670.8,258.1Z" fill="#03038c"/>
<path d="M687.4,242.7L702.8,228.7L703.4,229.4L687.8,243.2Z" fill="#000089"/>
<path d="M670.8,258.1L681.5,248.6L681.8,248.9L670.8,258.2Z" fill="#00019a"/>
<path d="M681.5,248.6L705.2,227.7L705.8,228.5L681.8,248.9Z" fill="#00049c"/>
<path d="M670.8,258.2L679.8,250.5L680.0,250.8L670.9,258.2Z" fill="#01059d"/>
<path d="M670.9,258.2L684.8,246.8L685.0,247.1L670.9,258.3Z" fill="#050dad"/>
<path d="M670.9,258.3L681.2,250.0L681.4,250.3L671.0,258.4Z" fill="#010291"/>
<path d="M681.2,250.0L710.4,226.6L711.1,227.5L681.4,250.3Z" fill="#0009b2"/>
<path d="M671.0,258.3L687.5,245.5L687.7,245.8L671.0,258.4Z" fill="#050aa1"/>
<path d="M687.5,245.5L711.7,226.8L712.2,227.5L687.7,245.8Z" fill="#0005a0"/>
<path d="M671.0,258.4L687.3,246.1L687.6,246.5L671.0,258.5Z" fill="#0109aa"/>
<path d="M687.3,246.1L707.1,231.1L707.7,231.9L687.6,246.5Z" fill="#0009b0"/>
<path d="M671.0,258.4L681.0,251.2L681.1,251.4L671.1,258.5Z" fill="#0004af"/>
<path d="M681.0,251.2L709.1,230.7L709.6,231.3L681.1,251.4Z" fill="#00059f"/>
<path d="M671.1,258.5L689.6,245.4L690.0,246.0L671.1,258.6Z" fill="#000fd0"/>
<path d="M689.6,245.4L710.2,230.7L711.0,231.9L690.0,246.0Z" fill="#0006a3"/>
<path d="M671.1,258.6L687.9,247.3L688.2,247.7L671.2,258.7Z" fill="#0719d9"/>
<path d="M687.9,247.3L717.7,227.2L718.4,228.2L688.2,247.7Z" fill="#0019e8"/>
<path d="M671.2,258.7L682.3,251.4L682.6,251.8L671.2,258.8Z" fill="#081de4"/>
<path d="M682.3,251.4L712.7,231.7L713.5,233.0L682.6,251.8Z" fill="#001ae8"/>
<path d="M671.2,258.7L683.8,251.0L684.0,251.3L671.3,258.8Z" fill="#0114d5"/>
<path d="M683.8,251.0L716.8,230.7L717.4,231.8L684.0,251.3Z" fill="#0015de"/>
<path d="M671.3,258.8L682.0,252.5L682.2,252.9L671.3,258.9Z" fill="#0820ee"/>
<path d="M682.0,252.5L707.2,237.6L707.8,238.7L682.2,252.9Z" fill="#0011ce"/>
<path d="M671.3,258.9L691.5,247.7L691.7,248.0L671.4,259.0Z" fill="#0017e2"/>
<path d="M691.5,247.7L716.3,233.8L716.7,234.5L691.7,248.0ZM686.3,262.4L705.4,263.6L705.4,264.2L686.3,262.6Z" fill="#021fe9"/>
<path d="M671.4,259.0L686.3,250.8L686.5,251.1L671.4,259.0Z" fill="#0d2cf3"/>
<path d="M686.3,250.8L711.7,237.0L712.1,237.7L686.5,251.1Z" fill="#0220e9"/>
<path d="M671.4,259.0L689.7,249.4L690.0,250.0L671.4,259.1Z" fill="#001fe1"/>
<path d="M689.7,249.4L709.6,238.9L710.1,240.0L690.0,250.0Z" fill="#011ce8"/>
<path d="M671.4,259.1L690.6,249.6L690.7,250.0L671.5,259.2Z" fill="#0019e6"/>
<path d="M690.6,249.6L710.4,239.8L710.7,240.4L690.7,250.0ZM689.6,251.7L719.0,239.2L719.6,240.6L689.9,252.3ZM684.4,260.8L711.0,260.4L711.0,261.3L684.4,261.2Z" fill="#0832ec"/>
<path d="M671.5,259.1L683.8,253.2L683.9,253.5L671.5,259.2Z" fill="#0428ea"/>
<path d="M683.8,253.2L712.4,239.5L712.7,240.1L683.9,253.5Z" fill="#0017e4"/>
<path d="M671.5,259.2L688.0,251.5L688.2,251.9L671.5,259.3Z" fill="#0b2cf1"/>
<path d="M688.0,251.5L720.1,236.5L720.6,237.6L688.2,251.9Z" fill="#072eeb"/>
<path d="M671.5,259.3L686.6,252.6L686.8,253.0L671.5,259.4Z" fill="#0a34ee"/>
<path d="M686.6,252.6L719.6,237.9L720.1,238.9L686.8,253.0ZM671.9,261.2L694.9,261.6L694.8,262.0L671.9,261.3ZM692.8,261.9L709.4,262.4L709.4,263.3L692.8,262.4Z" fill="#062ceb"/>
<path d="M671.5,259.3L689.6,251.7L689.9,252.3L671.6,259.5Z" fill="#0a37ed"/>
<path d="M671.6,259.4L685.8,253.8L685.9,254.2L671.6,259.5Z" fill="#1340f6"/>
<path d="M685.8,253.8L716.1,241.8L716.5,242.8L685.9,254.2Z" fill="#0934ec"/>
<path d="M671.6,259.5L683.5,255.1L683.6,255.5L671.7,259.6Z" fill="#083aea"/>
<path d="M683.5,255.1L724.1,239.8L724.7,241.3L683.6,255.5ZM684.1,259.6L721.8,256.4L721.9,257.5L684.2,260.0Z" fill="#0c3cee"/>
<path d="M671.7,259.6L690.3,253.1L690.4,253.6L671.7,259.7Z" fill="#1043f1"/>
<path d="M690.3,253.1L718.4,243.4L718.7,244.4L690.4,253.6ZM692.3,255.2L715.1,249.8L715.3,250.8L692.4,255.7Z" fill="#0d40ee"/>
<path d="M671.7,259.7L687.9,254.4L688.0,254.9L671.7,259.8Z" fill="#0f42f1"/>
<path d="M687.9,254.4L719.5,244.0L720.0,245.4L688.0,254.9Z" fill="#0830ec"/>
<path d="M671.7,259.8L683.3,256.3L683.4,256.7L671.7,259.9Z" fill="#0b3aee"/>
<path d="M683.3,256.3L724.8,243.8L725.2,245.4L683.4,256.7Z" fill="#1d6df4"/>
<path d="M671.7,259.9L688.7,255.3L688.8,255.8L671.8,260.0Z" fill="#164af7"/>
<path d="M688.7,255.3L719.3,246.8L719.7,248.2L688.8,255.8Z" fill="#0e44ef"/>
<path d="M671.8,260.0L686.9,256.2L687.0,256.5L671.8,260.1Z" fill="#0e42ef"/>
<path d="M686.9,256.2L717.0,248.7L717.2,249.5L687.0,256.5ZM691.7,265.4L700.8,267.0L700.6,267.9L691.6,266.1Z" fill="#247df6"/>
<path d="M671.8,260.1L692.3,255.2L692.4,255.7L671.8,260.2Z" fill="#1043f2"/>
<path d="M671.8,260.1L694.2,255.3L694.4,255.8L671.8,260.2Z" fill="#164ef6"/>
<path d="M694.2,255.3L715.7,250.6L715.9,251.6L694.4,255.8ZM694.9,257.3L699.7,256.7L699.8,257.6L695.0,258.1Z" fill="#0d3fee"/>
<path d="M671.8,260.2L690.9,256.4L691.1,257.0L671.8,260.3Z" fill="#0436e5"/>
<path d="M690.9,256.4L715.3,251.6L715.5,252.9L691.1,257.0Z" fill="#0f47ef"/>
<path d="M671.8,260.3L690.5,257.1L690.6,257.7L671.9,260.4Z" fill="#1544f7"/>
<path d="M690.5,257.1L709.7,253.7L709.8,254.9L690.6,257.7Z" fill="#0f45ef"/>
<path d="M671.9,260.4L692.1,257.4L692.2,257.8L671.9,260.5Z" fill="#0a3aeb"/>
<path d="M692.1,257.4L711.6,254.5L711.7,255.2L692.2,257.8Z" fill="#1b67f3"/>
<path d="M671.9,260.5L694.9,257.3L695.0,258.1L671.9,260.6Z" fill="#0935ec"/>
<path d="M671.9,260.6L686.6,259.0L686.6,259.2L671.9,260.7Z" fill="#0633e9"/>
<path d="M686.6,259.0L717.3,255.5L717.4,256.3L686.6,259.2Z" fill="#0c3dee"/>
<path d="M671.9,260.7L690.7,258.8L690.7,259.1L671.9,260.7Z" fill="#1341f6"/>
<path d="M690.7,258.8L713.0,256.6L713.1,257.2L690.7,259.1Z" fill="#072deb"/>
<path d="M671.9,260.7L684.1,259.6L684.2,260.0L671.9,260.8Z" fill="#1441f7"/>
<path d="M671.9,260.8L686.3,259.8L686.3,260.1L671.9,260.9Z" fill="#0b37ee"/>
<path d="M686.3,259.8L710.6,258.1L710.6,258.7L686.3,260.1ZM686.6,261.1L714.4,261.2L714.3,262.1L686.6,261.5Z" fill="#114bf0"/>
<path d="M671.9,260.8L689.7,259.8L689.8,260.3L671.9,260.9Z" fill="#0e34f2"/>
<path d="M689.7,259.8L711.3,258.6L711.4,259.5L689.8,260.3Z" fill="#0a36ed"/>
<path d="M671.9,260.9L690.9,260.2L690.9,260.8L671.9,261.0Z" fill="#062eea"/>
<path d="M690.9,260.2L712.2,259.3L712.3,260.5L690.9,260.8Z" fill="#0529ea"/>
<path d="M671.9,261.0L684.4,260.8L684.4,261.2L671.9,261.1Z" fill="#0023e1"/>
<path d="M671.9,261.1L686.6,261.1L686.6,261.5L671.9,261.2Z" fill="#0e32f3"/>
<path d="M694.9,261.6L714.4,262.0L714.4,262.7L694.8,262.0Z" fill="#114cf0"/>
<path d="M671.9,261.2L692.8,261.9L692.8,262.4L671.9,261.3ZM688.2,263.6L701.6,265.2L701.5,265.9L688.1,264.0Z" fill="#0321e9"/>
<path d="M671.9,261.3L691.9,262.3L691.9,262.8L671.9,261.4Z" fill="#001be0"/>
<path d="M691.9,262.3L710.0,263.2L710.0,264.1L691.9,262.8Z" fill="#1b66f3"/>
<path d="M671.9,261.4L686.3,262.4L686.3,262.6L671.9,261.5Z" fill="#001ce3"/>
<path d="M671.9,261.5L683.6,262.4L683.6,262.7L671.9,261.5Z" fill="#001de6"/>
<path d="M683.6,262.4L708.9,264.4L708.8,265.2L683.6,262.7ZM690.7,266.2L703.4,269.0L703.2,269.8L690.6,266.7Z" fill="#011be8"/>
<path d="M671.9,261.5L686.5,262.9L686.5,263.5L671.9,261.7Z" fill="#001de2"/>
<path d="M686.5,262.9L708.3,265.0L708.1,266.2L686.5,263.5Z" fill="#0426ea"/>
<path d="M671.9,261.6L688.2,263.6L688.1,264.0L671.9,261.7Z" fill="#0522eb"/>
<path d="M671.9,261.7L689.2,264.1L689.2,264.7L671.8,261.8Z" fill="#041deb"/>
<path d="M689.2,264.1L701.1,265.8L701.0,266.7L689.2,264.7ZM694.4,265.5L700.1,266.5L700.0,267.0L694.4,265.9ZM685.7,264.8L703.5,268.4L703.3,269.1L685.6,265.2ZM691.2,266.8L700.0,268.9L699.9,269.5L691.1,267.3ZM686.1,265.9L703.8,270.5L703.6,271.0L686.0,266.2ZM688.6,266.8L708.1,272.1L707.8,273.2L688.4,267.4ZM691.5,269.2L702.2,272.8L702.0,273.5L691.4,269.7ZM690.6,271.1L702.1,276.0L701.8,276.7L690.4,271.6ZM682.7,268.0L700.6,276.1L700.2,277.0L682.5,268.4ZM692.5,273.2L706.0,279.7L705.7,280.3L692.3,273.5ZM682.2,268.5L703.4,279.0L703.2,279.5L682.1,268.7ZM683.3,269.5L703.3,280.0L702.9,280.8L683.1,269.8ZM688.0,272.4L703.6,281.0L703.2,281.8L687.7,272.8ZM671.3,263.3L686.8,272.2L686.6,272.6L671.3,263.4ZM686.8,272.2L700.8,280.2L700.4,280.9L686.6,272.6ZM687.8,273.3L702.5,282.0L702.1,282.7L687.6,273.7ZM688.0,273.9L702.0,282.6L701.4,283.5L687.7,274.5ZM686.6,273.7L707.6,287.5L706.9,288.5L686.3,274.2ZM671.1,263.7L683.6,272.3L683.4,272.6L671.1,263.7ZM680.5,270.5L707.0,289.5L706.4,290.3L680.3,270.8ZM685.6,275.7L704.3,290.7L703.7,291.4L685.3,276.1Z" fill="#0018e8"/>
<path d="M671.8,261.8L694.4,265.5L694.4,265.9L671.8,261.9Z" fill="#051fed"/>
<path d="M671.8,261.9L691.7,265.4L691.6,266.1L671.8,262.0Z" fill="#031eea"/>
<path d="M671.8,262.0L685.7,264.8L685.6,265.2L671.8,262.1Z" fill="#021aea"/>
<path d="M671.8,262.1L690.7,266.2L690.6,266.7L671.8,262.2ZM671.6,262.7L690.3,269.7L690.1,270.0L671.6,262.7ZM671.2,263.6L686.6,273.7L686.3,274.2L671.1,263.7Z" fill="#0012e2"/>
<path d="M671.8,262.1L691.2,266.8L691.1,267.3L671.8,262.2Z" fill="#0013e3"/>
<path d="M671.8,262.2L686.1,265.9L686.0,266.2L671.7,262.3ZM671.6,262.8L686.0,268.7L685.8,269.1L671.5,262.9ZM671.1,263.7L680.5,270.5L680.3,270.8L671.0,263.8Z" fill="#0921f1"/>
<path d="M671.7,262.3L688.6,266.8L688.4,267.4L671.7,262.4ZM671.3,263.3L688.0,272.4L687.7,272.8L671.3,263.3Z" fill="#051ded"/>
<path d="M671.7,262.4L687.8,267.1L687.6,267.7L671.7,262.5ZM671.4,263.1L682.2,268.5L682.1,268.7L671.4,263.2ZM671.4,263.2L685.4,270.3L685.3,270.6L671.4,263.2Z" fill="#0119e9"/>
<path d="M687.8,267.1L696.1,269.6L695.9,270.4L687.6,267.7Z" fill="#1a63f3"/>
<path d="M671.7,262.5L690.5,268.6L690.4,268.9L671.7,262.5ZM671.5,263.0L682.7,268.0L682.5,268.4L671.4,263.1ZM671.2,263.5L688.0,273.9L687.7,274.5L671.2,263.6Z" fill="#031beb"/>
<path d="M690.5,268.6L695.1,270.0L694.9,270.5L690.4,268.9Z" fill="#1659f2"/>
<path d="M671.7,262.5L691.5,269.2L691.4,269.7L671.6,262.6ZM670.9,263.9L688.5,277.6L688.3,277.9L670.9,263.9Z" fill="#0016e6"/>
<path d="M671.6,262.6L689.7,269.0L689.5,269.5L671.6,262.7Z" fill="#0820f0"/>
<path d="M689.7,269.0L700.3,272.8L700.0,273.5L689.5,269.5Z" fill="#1049f0"/>
<path d="M690.3,269.7L699.9,273.3L699.7,273.8L690.1,270.0Z" fill="#2580f7"/>
<path d="M671.6,262.7L692.6,270.9L692.4,271.4L671.6,262.8Z" fill="#000ede"/>
<path d="M692.6,270.9L699.3,273.6L699.1,274.2L692.4,271.4Z" fill="#1c68f4"/>
<path d="M686.0,268.7L699.7,274.3L699.4,275.0L685.8,269.1Z" fill="#237cf6"/>
<path d="M671.5,262.9L690.6,271.1L690.4,271.6L671.5,263.0Z" fill="#0014e4"/>
<path d="M671.5,263.1L692.5,273.2L692.3,273.5L671.4,263.1ZM671.3,263.4L687.8,273.3L687.6,273.7L671.2,263.5Z" fill="#0015e5"/>
<path d="M685.4,270.3L700.1,277.9L699.9,278.4L685.3,270.6Z" fill="#175af2"/>
<path d="M671.4,263.2L683.3,269.5L683.1,269.8L671.3,263.3Z" fill="#0011e1"/>
<path d="M683.6,272.3L706.1,287.8L705.5,288.6L683.4,272.6Z" fill="#0016e5"/>
<path d="M671.0,263.8L685.9,274.9L685.6,275.4L670.9,263.9Z" fill="#071eeb"/>
<path d="M685.9,274.9L705.6,289.5L704.9,290.6L685.6,275.4Z" fill="#0017e6"/>
<path d="M688.5,277.6L700.1,286.7L699.7,287.2L688.3,277.9ZM685.3,278.0L698.8,290.9L698.2,291.5L684.9,278.4Z" fill="#0016e3"/>
<path d="M670.9,263.9L685.6,275.7L685.3,276.1L670.9,264.0Z" fill="#081eea"/>
<path d="M670.9,264.0L681.3,272.7L681.1,273.0L670.8,264.0Z" fill="#0013e1"/>
<path d="M681.3,272.7L702.2,290.0L701.6,290.7L681.1,273.0Z" fill="#0014e0"/>
<path d="M670.8,264.0L681.0,272.8L680.9,273.0L670.8,264.1Z" fill="#000fdb"/>
<path d="M681.0,272.8L704.0,292.6L703.5,293.1L680.9,273.0Z" fill="#0016e4"/>
<path d="M670.8,264.1L687.4,278.7L687.0,279.1L670.7,264.1Z" fill="#041ae6"/>
<path d="M687.4,278.7L703.5,292.9L702.8,293.6L687.0,279.1ZM679.5,273.0L698.1,291.2L697.3,292.0L679.2,273.3Z" fill="#0015e1"/>
<path d="M670.7,264.1L679.3,271.9L679.0,272.2L670.7,264.2Z" fill="#000eda"/>
<path d="M679.3,271.9L705.5,295.9L704.7,296.6L679.0,272.2ZM679.4,273.8L690.2,285.4L689.5,286.0L679.0,274.2ZM680.7,276.0L689.1,285.4L688.7,285.7L680.5,276.2Z" fill="#0014df"/>
<path d="M670.7,264.2L685.3,278.0L684.9,278.4L670.6,264.3Z" fill="#000fd9"/>
<path d="M670.6,264.2L679.5,273.0L679.2,273.3L670.5,264.3Z" fill="#000fda"/>
<path d="M670.5,264.3L679.6,273.6L679.3,273.9L670.5,264.4Z" fill="#0316df"/>
<path d="M679.6,273.6L697.0,291.5L696.4,292.1L679.3,273.9Z" fill="#0013dd"/>
<path d="M670.5,264.4L679.4,273.8L679.0,274.2L670.4,264.5Z" fill="#0115df"/>
<path d="M670.4,264.5L680.7,276.0L680.5,276.2L670.3,264.5Z" fill="#000fd7"/>
<path d="M670.4,264.5L681.4,277.2L681.1,277.5L670.3,264.6Z" fill="#0215dd"/>
<path d="M681.4,277.2L697.4,295.5L696.7,296.1L681.1,277.5Z" fill="#0013db"/>
<path d="M670.3,264.5L681.3,277.6L681.1,277.8L670.2,264.6Z" fill="#000dd7"/>
<path d="M681.3,277.6L704.9,305.7L704.3,306.3L681.1,277.8Z" fill="#0011d7"/>
<path d="M670.3,264.6L678.8,275.0L678.4,275.3L670.2,264.7Z" fill="#000ad1"/>
<path d="M678.8,275.0L700.3,301.1L699.2,302.0L678.4,275.3Z" fill="#0014de"/>
<path d="M670.2,264.6L678.3,275.0L678.1,275.2L670.1,264.7Z" fill="#0417df"/>
<path d="M678.3,275.0L702.0,305.4L701.3,305.9L678.1,275.2Z" fill="#0012da"/>
<path d="M670.1,264.7L680.9,278.8L680.6,279.0L670.1,264.7Z" fill="#0009d0"/>
<path d="M680.9,278.8L700.4,304.5L699.8,305.0L680.6,279.0Z" fill="#0013dc"/>
<path d="M670.1,264.7L677.0,274.0L676.6,274.3L670.0,264.8Z" fill="#0008ce"/>
<path d="M677.0,274.0L699.5,304.3L698.3,305.2L676.6,274.3Z" fill="#0012d9"/>
<path d="M670.0,264.8L680.4,279.5L680.1,279.7L669.9,264.8Z" fill="#000ed4"/>
<path d="M680.4,279.5L700.5,308.1L699.8,308.6L680.1,279.7Z" fill="#000dcf"/>
<path d="M669.9,264.8L677.2,275.4L676.9,275.5L669.9,264.9ZM669.9,264.9L677.5,276.3L677.1,276.5L669.8,264.9Z" fill="#0818dc"/>
<path d="M677.2,275.4L699.5,307.8L698.5,308.4L676.9,275.5ZM677.9,278.9L694.9,307.8L694.2,308.2L677.6,279.1Z" fill="#0010d4"/>
<path d="M677.5,276.3L698.5,308.1L697.5,308.7L677.1,276.5Z" fill="#0010d6"/>
<path d="M669.8,264.9L681.6,283.4L681.1,283.6L669.7,264.9Z" fill="#0410cf"/>
<path d="M681.6,283.4L694.8,304.1L693.9,304.7L681.1,283.6Z" fill="#0010d5"/>
<path d="M669.7,264.9L679.3,280.5L678.9,280.8L669.7,265.0Z" fill="#000ed3"/>
<path d="M679.3,280.5L697.3,309.9L696.3,310.5L678.9,280.8Z" fill="#0011d6"/>
<path d="M669.7,265.0L677.9,278.9L677.6,279.1L669.6,265.0Z" fill="#0919dd"/>
<path d="M669.6,265.0L678.7,280.8L678.4,281.0L669.6,265.0Z" fill="#0002be"/>
<path d="M678.7,280.8L692.8,305.5L692.2,305.9L678.4,281.0Z" fill="#000ed1"/>
<path d="M669.6,265.0L677.9,280.0L677.6,280.2L669.5,265.1Z" fill="#020cc9"/>
<path d="M677.9,280.0L694.2,309.3L693.5,309.7L677.6,280.2Z" fill="#000bc8"/>
<path d="M669.5,265.1L680.3,285.1L680.0,285.2L669.5,265.1Z" fill="#070fc9"/>
<path d="M680.3,285.1L692.9,308.4L692.2,308.8L680.0,285.2Z" fill="#000bc9"/>
<path d="M669.5,265.1L677.8,281.0L677.4,281.2L669.4,265.1Z" fill="#050cc4"/>
<path d="M677.8,281.0L691.6,307.2L690.7,307.7L677.4,281.2Z" fill="#0007bf"/>
<path d="M669.4,265.1L675.6,277.5L675.3,277.6L669.3,265.2ZM675.6,277.5L691.5,309.1L690.5,309.6L675.3,277.6ZM674.7,280.1L686.1,310.0L685.1,310.3L674.3,280.3Z" fill="#0004ba"/>
<path d="M669.4,265.2L676.7,280.5L676.3,280.7L669.3,265.2Z" fill="#0000bc"/>
<path d="M676.7,280.5L689.6,307.2L688.6,307.6L676.3,280.7Z" fill="#0000b1"/>
<path d="M669.3,265.2L675.2,278.1L674.9,278.3L669.2,265.2Z" fill="#0000ac"/>
<path d="M675.2,278.1L689.0,308.2L688.1,308.6L674.9,278.3Z" fill="#000bca"/>
<path d="M669.2,265.2L677.2,283.5L676.7,283.6L669.1,265.3ZM673.8,276.5L688.5,311.6L687.7,311.9L673.6,276.6ZM673.4,276.1L688.9,314.4L687.8,314.8L673.1,276.2Z" fill="#0000b0"/>
<path d="M677.2,283.5L688.4,309.1L687.5,309.5L676.7,283.6ZM672.4,278.3L679.8,303.7L678.9,304.0L672.1,278.4Z" fill="#00009b"/>
<path d="M669.1,265.3L673.8,276.5L673.6,276.6L669.1,265.3Z" fill="#0000a8"/>
<path d="M669.1,265.3L673.4,276.1L673.1,276.2L669.0,265.3Z" fill="#0000a6"/>
<path d="M669.0,265.3L674.7,280.1L674.3,280.3L668.9,265.3Z" fill="#00009f"/>
<path d="M668.9,265.3L676.8,287.0L676.3,287.2L668.9,265.4Z" fill="#00009a"/>
<path d="M668.9,265.4L676.4,287.1L675.6,287.4L668.7,265.4Z" fill="#000084"/>
<path d="M676.4,287.1L683.3,307.4L682.1,307.8L675.6,287.4ZM672.8,282.1L677.9,301.7L677.3,301.8L672.5,282.1ZM672.1,280.2L678.2,305.3L677.3,305.5L671.7,280.3ZM673.4,287.6L676.1,299.3L675.5,299.4L673.0,287.7ZM671.4,279.7L675.7,300.1L675.0,300.2L671.0,279.7ZM672.6,287.8L674.5,297.2L673.7,297.3L672.1,287.9ZM671.2,282.7L673.5,295.2L673.0,295.3L670.9,282.8ZM671.0,282.9L673.3,296.9L672.6,297.0L670.6,282.9ZM670.4,281.3L672.5,295.8L671.6,295.9L669.8,281.3ZM670.3,285.1L671.4,294.1L670.8,294.2L669.9,285.2ZM669.4,280.6L670.4,290.2L669.7,290.2L668.9,280.7ZM669.1,282.9L669.8,290.9L669.3,291.0L668.8,282.9ZM668.8,282.1L669.4,289.9L668.9,289.9L668.5,282.2ZM668.3,278.0L668.9,288.9L668.2,289.0L667.9,278.0ZM668.1,283.3L668.3,288.7L667.8,288.7L667.8,283.3ZM667.9,286.8L667.9,289.8L667.4,289.8L667.4,286.8ZM667.4,280.9L667.4,286.6L667.1,286.6L667.1,280.9ZM667.2,279.0L667.1,287.3L666.6,287.3L666.8,279.0ZM666.7,286.9L666.6,287.7L665.9,287.7L666.0,286.9ZM666.3,282.3L666.2,284.8L665.5,284.7L665.7,282.3ZM665.8,282.1L665.5,285.5L665.0,285.4L665.4,282.0ZM665.4,277.7L664.6,284.4L664.0,284.4L665.0,277.6ZM666.3,265.5L662.4,281.2L662.0,281.1L666.2,265.4ZM662.6,279.1L662.5,279.4L662.2,279.4L662.3,279.1ZM662.5,278.6L662.0,280.3L661.6,280.2L662.1,278.5ZM661.7,280.0L661.7,280.1L661.2,280.0L661.2,279.9ZM661.4,278.5L661.1,279.3L660.8,279.2L661.1,278.4ZM665.5,265.2L661.2,274.6L661.0,274.5L665.5,265.2ZM632.8,276.9L625.5,280.2L624.7,278.3L632.2,275.3Z" fill="#000068"/>
<path d="M668.8,265.4L673.8,281.4L673.3,281.6L668.6,265.4Z" fill="#050580"/>
<path d="M673.8,281.4L682.4,308.3L681.1,308.7L673.3,281.6Z" fill="#000096"/>
<path d="M668.7,265.4L672.4,278.3L672.1,278.4L668.6,265.4Z" fill="#000080"/>
<path d="M668.5,265.5L672.8,282.1L672.5,282.1L668.5,265.5Z" fill="#030381"/>
<path d="M668.3,265.5L671.4,279.7L671.0,279.7L668.3,265.5ZM668.3,265.5L672.6,287.8L672.1,287.9L668.2,265.5Z" fill="#07076f"/>
<path d="M668.2,265.5L671.2,282.7L670.9,282.8L668.1,265.5Z" fill="#06066e"/>
<path d="M668.1,265.5L671.0,282.9L670.6,282.9L668.0,265.6ZM666.2,265.4L662.6,279.1L662.3,279.1L666.2,265.4Z" fill="#00005f"/>
<path d="M668.1,265.6L670.4,281.3L669.8,281.3L667.9,265.6Z" fill="#000066"/>
<path d="M667.9,265.6L670.3,285.1L669.9,285.2L667.9,265.6ZM667.7,265.6L668.8,282.1L668.5,282.2L667.6,265.6ZM667.4,265.6L667.4,280.9L667.1,280.9L667.3,265.6ZM666.5,265.5L662.9,283.0L662.3,282.8L666.4,265.5ZM665.8,265.3L661.6,276.5L661.4,276.4L665.8,265.3ZM665.7,265.3L661.2,276.5L660.9,276.3L665.6,265.2Z" fill="#000063"/>
<path d="M667.9,265.6L669.4,280.6L668.9,280.7L667.7,265.6ZM666.6,265.5L663.7,281.4L663.2,281.3L666.5,265.5Z" fill="#080870"/>
<path d="M667.8,265.6L669.1,282.9L668.8,282.9L667.7,265.6Z" fill="#05056d"/>
<path d="M667.6,265.6L668.3,278.0L667.9,278.0L667.5,265.6ZM667.5,265.6L667.9,286.8L667.4,286.8L667.4,265.6ZM666.0,265.4L661.6,278.7L661.3,278.6L665.9,265.3Z" fill="#000060"/>
<path d="M667.5,265.6L668.1,283.3L667.8,283.3L667.5,265.6ZM667.2,265.6L666.3,282.3L665.7,282.3L667.0,265.6ZM667.1,265.6L665.8,282.1L665.4,282.0L667.0,265.6ZM666.2,265.4L662.5,278.6L662.1,278.5L666.1,265.4Z" fill="#000064"/>
<path d="M667.4,265.6L667.2,279.0L666.8,279.0L667.3,265.6ZM666.4,265.5L662.9,280.8L662.5,280.7L666.3,265.5Z" fill="#03036b"/>
<path d="M667.3,265.6L666.7,286.9L666.0,286.9L667.2,265.6Z" fill="#02026a"/>
<path d="M666.9,265.6L665.4,277.7L665.0,277.6L666.7,265.6ZM665.6,265.2L661.0,275.5L660.8,275.4L665.5,265.2Z" fill="#00005e"/>
<path d="M666.8,265.6L664.2,283.3L663.7,283.2L666.7,265.5ZM665.8,265.3L660.9,278.0L660.6,277.9L665.7,265.3Z" fill="#000062"/>
<path d="M666.7,265.5L663.8,283.4L663.3,283.3L666.6,265.5Z" fill="#04046c"/>
<path d="M666.1,265.4L661.7,280.0L661.2,279.9L666.0,265.4Z" fill="#000061"/>
<path d="M665.9,265.4L661.4,278.5L661.1,278.4L665.9,265.3Z" fill="#090971"/>
<path d="M661.8,263.2L631.9,274.7L631.6,274.0L661.8,263.1ZM661.8,263.2L625.8,276.2L625.4,275.2L661.7,263.0ZM674.7,211.6L675.7,204.7L676.9,204.9L675.7,211.8Z" fill="#ff5000"/>
<path d="M661.6,262.8L626.0,273.0L625.7,272.0L661.6,262.6ZM661.6,262.5L629.0,270.7L628.8,269.7L661.5,262.4ZM661.5,262.3L641.6,266.2L641.5,265.5L661.5,262.1Z" fill="#ffbc29"/>
<path d="M661.6,262.6L625.5,272.2L625.3,271.5L661.6,262.5Z" fill="#ffbb28"/>
<path d="M661.5,262.4L628.8,269.8L628.6,269.1L661.5,262.3ZM661.5,262.3L631.0,268.8L630.9,268.1L661.5,262.2ZM661.4,261.4L641.5,262.5L641.4,262.0L661.4,261.3Z" fill="#ffb321"/>
<path d="M661.5,262.0L645.5,264.5L645.5,264.0L661.5,261.9Z" fill="#ffb422"/>
<path d="M661.5,261.9L639.6,264.9L639.5,264.2L661.4,261.8Z" fill="#ffba27"/>
<path d="M661.4,261.7L633.9,264.3L633.8,263.6L661.4,261.6ZM661.4,261.6L637.0,263.5L637.0,262.7L661.4,261.4ZM659.9,258.2L635.7,248.9L635.9,248.3L660.0,258.1ZM641.2,230.9L623.4,210.5L625.2,209.0L642.2,230.0Z" fill="#ffb220"/>
<path d="M661.4,261.3L631.3,262.5L631.2,261.6L661.4,261.2Z" fill="#ffbc2a"/>
<path d="M705.2,248.1L731.7,239.0L732.5,241.4L705.7,249.5Z" fill="#1048f0"/>
<circle cx="667.4" cy="261.1" r="4.8" fill="#fff"/>
</g>
<g clip-path="url(#cl)">
<path d="M83.3,273.9 L86.8,273.9 L87.7,279.5 L86.4,286.6 L86.8,291.8 L88.2,297.1 L89.4,302.4 L92.9,306.7 L91.2,308.0 L87.7,306.2 L85.0,302.4 L84.2,297.1 L82.1,293.6 L82.4,289.2 L83.3,283.1 L83.6,277.8Z M108.4,304.3 L111.1,305.7 L113.5,312.2 L111.4,314.8 L106.2,317.5 L100.0,320.6 L99.5,320.1 L105.3,316.6 L110.5,313.1 L109.7,309.6Z M83.4,327.2 L87.8,326.9 L93.9,329.9 L98.3,332.5 L100.9,337.8 L102.7,340.4 L100.9,343.0 L98.3,343.9 L96.6,340.4 L95.7,336.0 L91.3,333.4 L86.9,330.7Z M105.9,338.8 L109.8,339.3 L113.3,343.1 L116.8,347.5 L115.0,349.8 L110.6,350.2 L108.0,346.6 L106.3,342.3Z M237.1,286.0 L238.3,281.7 L240.8,278.6 L243.9,280.5 L246.3,283.6 L246.9,278.6 L248.2,278.6 L248.4,285.4 L250.6,290.9 L252.4,295.8 L254.9,299.5 L257.4,304.4 L259.8,306.9 L261.7,304.4 L262.9,306.3 L262.6,310.5 L264.7,313.6 L265.9,317.3 L264.1,317.9 L261.7,316.1 L258.6,313.0 L256.1,309.3 L254.3,305.6 L251.8,302.0 L250.0,297.7 L247.5,294.0 L244.5,290.9 L241.4,287.8 L239.0,286.6Z M268.1,320.3 L271.1,320.0 L272.7,323.4 L272.3,326.4 L269.9,326.4 L268.1,323.4Z M281.1,327.6 L282.9,326.6 L283.9,331.3 L282.7,332.5Z M276.1,332.5 L277.3,333.2 L279.7,339.3 L278.5,339.9Z M288.0,338.2 L293.5,337.7 L296.7,340.9 L297.6,344.2 L296.2,345.3 L293.7,344.2 L292.1,346.5 L291.7,351.5 L291.5,357.9 L292.1,361.6 L291.2,365.3 L290.0,366.7 L288.4,364.4 L287.2,360.7 L286.6,351.5 L287.1,344.2Z M300.6,347.2 L302.4,347.2 L304.3,348.6 L307.0,348.2 L308.9,351.4 L310.3,352.8 L312.1,352.3 L312.6,348.6 L314.8,346.0 L317.6,346.3 L319.9,346.8 L324.8,342.4 L327.3,344.9 L329.6,346.3 L331.9,347.7 L334.2,349.5 L333.2,351.4 L330.0,350.3 L327.3,351.8 L324.5,352.8 L322.2,351.8 L319.4,351.4 L318.1,354.1 L317.6,359.7 L317.1,362.9 L315.8,363.3 L313.9,360.6 L312.1,356.9 L310.7,354.6 L308.4,354.1 L306.1,356.4 L304.3,355.5 L302.4,352.3 L301.1,349.5Z M213.0,311.3 L206.4,321.3 L205.3,320.5 L212.1,310.7Z M307.9,232.5 L312.4,230.3 L312.9,231.5 L308.3,233.5Z" fill="#d8d8d8" stroke="#808080" stroke-width="1.4" stroke-linejoin="round"/>
<path d="M84.6,273.7 L88.1,273.7 L88.9,279.3 L87.7,286.3 L88.1,291.6 L89.5,296.8 L90.7,302.1 L94.2,306.5 L92.5,307.7 L88.9,306.0 L86.3,302.1 L85.4,296.8 L83.3,293.3 L83.7,288.9 L84.6,282.8 L84.9,277.5Z M109.6,303.9 L112.3,305.3 L114.7,311.8 L112.6,314.4 L107.4,317.0 L101.2,320.2 L100.7,319.6 L106.5,316.1 L111.8,312.6 L110.9,309.1Z M84.6,326.7 L88.9,326.3 L95.1,329.3 L99.5,331.9 L102.1,337.2 L103.9,339.8 L102.1,342.5 L99.5,343.3 L97.7,339.8 L96.8,335.4 L92.5,332.8 L88.1,330.2Z M107.0,338.1 L110.9,338.6 L114.4,342.5 L117.9,346.8 L116.1,349.1 L111.8,349.5 L109.1,346.0 L107.4,341.6Z M236.9,284.7 L238.1,280.4 L240.6,277.4 L243.7,279.2 L246.1,282.3 L246.7,277.4 L248.0,277.4 L248.2,284.1 L250.4,289.6 L252.2,294.5 L254.7,298.2 L257.2,303.1 L259.6,305.6 L261.4,303.1 L262.7,305.0 L262.4,309.3 L264.5,312.3 L265.7,316.0 L263.9,316.6 L261.4,314.8 L258.4,311.7 L255.9,308.0 L254.1,304.4 L251.6,300.7 L249.8,296.4 L247.3,292.7 L244.3,289.6 L241.2,286.6 L238.7,285.3Z M267.6,319.1 L270.7,318.8 L272.2,322.1 L271.9,325.2 L269.4,325.2 L267.6,322.1Z M280.5,326.4 L282.3,325.5 L283.3,330.1 L282.1,331.3Z M275.6,331.3 L276.8,332.0 L279.2,338.1 L278.0,338.7Z M287.4,337.0 L292.9,336.6 L296.1,339.8 L297.0,343.0 L295.7,344.1 L293.1,343.0 L291.5,345.3 L291.1,350.3 L290.9,356.8 L291.5,360.5 L290.6,364.1 L289.4,365.5 L287.9,363.2 L286.7,359.5 L286.0,350.3 L286.5,343.0Z M299.8,346.2 L301.6,346.2 L303.5,347.6 L306.2,347.1 L308.1,350.3 L309.5,351.7 L311.3,351.3 L311.8,347.6 L314.1,345.0 L316.8,345.3 L319.1,345.7 L324.0,341.3 L326.5,343.9 L328.8,345.3 L331.1,346.7 L333.4,348.5 L332.4,350.3 L329.2,349.2 L326.5,350.8 L323.7,351.7 L321.4,350.8 L318.7,350.3 L317.3,353.1 L316.8,358.6 L316.4,361.8 L315.0,362.3 L313.1,359.5 L311.3,355.9 L309.9,353.6 L307.6,353.1 L305.3,355.4 L303.5,354.5 L301.6,351.3 L300.3,348.5Z M213.7,310.2 L207.1,320.2 L206.0,319.5 L212.8,309.6Z M306.7,233.0 L311.2,230.9 L311.7,232.0 L307.2,234.1Z M239.0,259.2 L241.6,260.0 L241.0,262.2 L239.6,261.0Z M240.2,266.8 L242.6,264.6 L243.2,265.6 L241.0,267.6Z M248.6,254.0 L250.0,254.0 L250.0,255.4 L248.6,255.4Z M252.6,250.6 L254.0,250.6 L254.0,252.0 L252.6,252.0Z" fill="#ffff00"/>
</g>
<g clip-path="url(#cr)" shape-rendering="crispEdges">
<path d="M504.8,273.8 L508.3,273.8 L509.2,279.4 L507.9,286.5 L508.3,291.7 L509.7,297.0 L510.9,302.3 L514.4,306.6 L512.7,307.9 L509.2,306.1 L506.5,302.3 L505.7,297.0 L503.5,293.5 L503.9,289.1 L504.8,283.0 L505.1,277.7Z M529.9,304.1 L532.5,305.5 L535.0,312.0 L532.9,314.7 L527.6,317.3 L521.5,320.5 L521.0,319.9 L526.7,316.4 L532.0,312.9 L531.1,309.4Z M504.8,327.0 L509.2,326.7 L515.4,329.6 L519.8,332.3 L522.4,337.5 L524.1,340.2 L522.4,342.8 L519.8,343.7 L518.0,340.2 L517.1,335.8 L512.7,333.2 L508.4,330.5Z M527.3,338.5 L531.2,339.0 L534.7,342.9 L538.2,347.3 L536.5,349.5 L532.1,349.9 L529.4,346.4 L527.7,342.0Z M708.7,337.7 L714.3,337.3 L717.5,340.5 L718.4,343.7 L717.0,344.8 L714.4,343.7 L712.9,346.0 L712.4,351.1 L712.2,357.5 L712.9,361.2 L712.0,364.9 L710.8,366.2 L709.2,363.9 L708.0,360.3 L707.4,351.1 L707.8,343.7Z M721.3,346.8 L723.1,346.8 L725.0,348.2 L727.7,347.8 L729.6,351.0 L730.9,352.4 L732.8,351.9 L733.2,348.2 L735.5,345.6 L738.3,345.9 L740.6,346.4 L745.5,342.0 L748.0,344.5 L750.3,345.9 L752.6,347.3 L754.9,349.1 L753.9,351.0 L750.7,349.9 L748.0,351.4 L745.2,352.4 L742.9,351.4 L740.1,351.0 L738.8,353.7 L738.3,359.3 L737.8,362.5 L736.5,362.9 L734.6,360.2 L732.8,356.5 L731.4,354.2 L729.1,353.7 L726.8,356.0 L725.0,355.1 L723.1,351.9 L721.8,349.1Z" fill="#000068"/>
<path d="M634.7,310.2 L628.1,320.2 L627.0,319.5 L633.8,309.6Z" fill="#000068"/>
<path d="M507.3,275.9 L510.3,275.9 L511.0,280.8 L510.0,286.8 L510.3,291.3 L511.5,295.9 L512.5,300.4 L515.6,304.2 L514.1,305.2 L511.0,303.7 L508.8,300.4 L508.0,295.9 L506.2,292.8 L506.5,289.1 L507.3,283.8 L507.6,279.3Z M531.7,304.7 L534.0,305.9 L536.1,311.5 L534.3,313.7 L529.8,316.0 L524.5,318.7 L524.0,318.3 L529.0,315.2 L533.6,312.2 L532.8,309.2Z M508.3,327.2 L512.1,326.9 L517.4,329.5 L521.1,331.7 L523.4,336.3 L524.9,338.5 L523.4,340.8 L521.1,341.5 L519.6,338.5 L518.9,334.8 L515.1,332.5 L511.3,330.2Z M529.8,338.2 L533.1,338.7 L536.1,342.0 L539.2,345.8 L537.6,347.7 L533.9,348.0 L531.6,345.0 L530.1,341.2Z M708.3,337.7 L713.0,337.3 L715.8,340.1 L716.6,342.8 L715.4,343.8 L713.2,342.8 L711.9,344.8 L711.5,349.2 L711.3,354.7 L711.9,357.9 L711.1,361.0 L710.0,362.2 L708.7,360.2 L707.7,357.1 L707.1,349.2 L707.5,342.8Z M722.2,345.8 L723.7,345.8 L725.3,347.0 L727.7,346.6 L729.3,349.4 L730.5,350.5 L732.0,350.1 L732.4,347.0 L734.4,344.8 L736.8,345.0 L738.8,345.4 L743.0,341.6 L745.1,343.8 L747.1,345.0 L749.0,346.2 L751.0,347.8 L750.2,349.4 L747.5,348.4 L745.1,349.7 L742.7,350.5 L740.7,349.7 L738.4,349.4 L737.2,351.7 L736.8,356.5 L736.4,359.2 L735.2,359.6 L733.6,357.3 L732.0,354.1 L730.9,352.1 L728.9,351.7 L726.9,353.7 L725.3,352.9 L723.7,350.1 L722.6,347.8Z" fill="#f00000"/>
<path d="M657.4,284.7 L658.6,280.4 L661.1,277.4 L664.2,279.2 L666.6,282.3 L667.2,277.4 L668.5,277.4 L668.7,284.1 L670.9,289.6 L672.7,294.5 L675.2,298.2 L677.7,303.1 L680.1,305.6 L681.9,303.1 L683.2,305.0 L682.9,309.3 L685.0,312.3 L686.2,316.0 L684.4,316.6 L681.9,314.8 L678.9,311.7 L676.4,308.0 L674.6,304.4 L672.1,300.7 L670.3,296.4 L667.8,292.7 L664.8,289.6 L661.7,286.6 L659.2,285.3Z" fill="#000068"/>
<path d="M661.1,276.3 L666.3,274.6 L668.4,280.7 L668.1,286.8 L664.6,286.0 L661.9,281.6Z M676.5,302.6 L681.2,301.8 L683.9,307.0 L682.1,310.5 L678.9,308.8Z M689.1,318.8 L691.9,318.4 L692.6,322.3 L690.0,322.8Z M695.8,331.1 L700.5,328.6 L704.6,326.5 L705.3,330.7 L701.4,332.8 L697.0,332.5Z M708.8,337.7 L713.7,337.4 L711.6,341.2 L710.9,348.2 L709.1,349.1Z M654.0,281.6 L656.7,278.9 L657.2,280.2 L654.7,283.0Z" fill="#f00000"/>
</g>
<rect x="59.3" y="74.5" width="374.2" height="374.5" fill="none" stroke="#000" stroke-width="2"/>
<path d="M59.30,74.5v-14.5M59.30,449.0v14.5M59.3,74.50h-14.5M433.5,74.50h14.5M152.85,74.5v-14.5M152.85,449.0v14.5M59.3,168.12h-14.5M433.5,168.12h14.5M246.40,74.5v-14.5M246.40,449.0v14.5M59.3,261.75h-14.5M433.5,261.75h14.5M339.95,74.5v-14.5M339.95,449.0v14.5M59.3,355.38h-14.5M433.5,355.38h14.5M433.50,74.5v-14.5M433.50,449.0v14.5M59.3,449.00h-14.5M433.5,449.00h14.5" stroke="#000" stroke-width="2" fill="none"/>
<path d="M70.99,74.5v-7.2M70.99,449.0v7.2M59.3,86.20h-7.2M433.5,86.20h7.2M82.69,74.5v-7.2M82.69,449.0v7.2M59.3,97.91h-7.2M433.5,97.91h7.2M94.38,74.5v-7.2M94.38,449.0v7.2M59.3,109.61h-7.2M433.5,109.61h7.2M106.07,74.5v-7.2M106.07,449.0v7.2M59.3,121.31h-7.2M433.5,121.31h7.2M117.77,74.5v-7.2M117.77,449.0v7.2M59.3,133.02h-7.2M433.5,133.02h7.2M129.46,74.5v-7.2M129.46,449.0v7.2M59.3,144.72h-7.2M433.5,144.72h7.2M141.16,74.5v-7.2M141.16,449.0v7.2M59.3,156.42h-7.2M433.5,156.42h7.2M164.54,74.5v-7.2M164.54,449.0v7.2M59.3,179.83h-7.2M433.5,179.83h7.2M176.24,74.5v-7.2M176.24,449.0v7.2M59.3,191.53h-7.2M433.5,191.53h7.2M187.93,74.5v-7.2M187.93,449.0v7.2M59.3,203.23h-7.2M433.5,203.23h7.2M199.62,74.5v-7.2M199.62,449.0v7.2M59.3,214.94h-7.2M433.5,214.94h7.2M211.32,74.5v-7.2M211.32,449.0v7.2M59.3,226.64h-7.2M433.5,226.64h7.2M223.01,74.5v-7.2M223.01,449.0v7.2M59.3,238.34h-7.2M433.5,238.34h7.2M234.71,74.5v-7.2M234.71,449.0v7.2M59.3,250.05h-7.2M433.5,250.05h7.2M258.09,74.5v-7.2M258.09,449.0v7.2M59.3,273.45h-7.2M433.5,273.45h7.2M269.79,74.5v-7.2M269.79,449.0v7.2M59.3,285.16h-7.2M433.5,285.16h7.2M281.48,74.5v-7.2M281.48,449.0v7.2M59.3,296.86h-7.2M433.5,296.86h7.2M293.18,74.5v-7.2M293.18,449.0v7.2M59.3,308.56h-7.2M433.5,308.56h7.2M304.87,74.5v-7.2M304.87,449.0v7.2M59.3,320.27h-7.2M433.5,320.27h7.2M316.56,74.5v-7.2M316.56,449.0v7.2M59.3,331.97h-7.2M433.5,331.97h7.2M328.26,74.5v-7.2M328.26,449.0v7.2M59.3,343.67h-7.2M433.5,343.67h7.2M351.64,74.5v-7.2M351.64,449.0v7.2M59.3,367.08h-7.2M433.5,367.08h7.2M363.34,74.5v-7.2M363.34,449.0v7.2M59.3,378.78h-7.2M433.5,378.78h7.2M375.03,74.5v-7.2M375.03,449.0v7.2M59.3,390.48h-7.2M433.5,390.48h7.2M386.73,74.5v-7.2M386.73,449.0v7.2M59.3,402.19h-7.2M433.5,402.19h7.2M398.42,74.5v-7.2M398.42,449.0v7.2M59.3,413.89h-7.2M433.5,413.89h7.2M410.11,74.5v-7.2M410.11,449.0v7.2M59.3,425.59h-7.2M433.5,425.59h7.2M421.81,74.5v-7.2M421.81,449.0v7.2M59.3,437.30h-7.2M433.5,437.30h7.2" stroke="#000" stroke-width="1.25" fill="none"/>
<rect x="480.3" y="74.5" width="374.7" height="374.5" fill="none" stroke="#000" stroke-width="2"/>
<path d="M480.30,74.5v-14.5M480.30,449.0v14.5M480.3,74.50h-14.5M855.0,74.50h14.5M573.98,74.5v-14.5M573.98,449.0v14.5M480.3,168.12h-14.5M855.0,168.12h14.5M667.65,74.5v-14.5M667.65,449.0v14.5M480.3,261.75h-14.5M855.0,261.75h14.5M761.33,74.5v-14.5M761.33,449.0v14.5M480.3,355.38h-14.5M855.0,355.38h14.5M855.00,74.5v-14.5M855.00,449.0v14.5M480.3,449.00h-14.5M855.0,449.00h14.5" stroke="#000" stroke-width="2" fill="none"/>
<path d="M492.01,74.5v-7.2M492.01,449.0v7.2M480.3,86.20h-7.2M855.0,86.20h7.2M503.72,74.5v-7.2M503.72,449.0v7.2M480.3,97.91h-7.2M855.0,97.91h7.2M515.43,74.5v-7.2M515.43,449.0v7.2M480.3,109.61h-7.2M855.0,109.61h7.2M527.14,74.5v-7.2M527.14,449.0v7.2M480.3,121.31h-7.2M855.0,121.31h7.2M538.85,74.5v-7.2M538.85,449.0v7.2M480.3,133.02h-7.2M855.0,133.02h7.2M550.56,74.5v-7.2M550.56,449.0v7.2M480.3,144.72h-7.2M855.0,144.72h7.2M562.27,74.5v-7.2M562.27,449.0v7.2M480.3,156.42h-7.2M855.0,156.42h7.2M585.68,74.5v-7.2M585.68,449.0v7.2M480.3,179.83h-7.2M855.0,179.83h7.2M597.39,74.5v-7.2M597.39,449.0v7.2M480.3,191.53h-7.2M855.0,191.53h7.2M609.10,74.5v-7.2M609.10,449.0v7.2M480.3,203.23h-7.2M855.0,203.23h7.2M620.81,74.5v-7.2M620.81,449.0v7.2M480.3,214.94h-7.2M855.0,214.94h7.2M632.52,74.5v-7.2M632.52,449.0v7.2M480.3,226.64h-7.2M855.0,226.64h7.2M644.23,74.5v-7.2M644.23,449.0v7.2M480.3,238.34h-7.2M855.0,238.34h7.2M655.94,74.5v-7.2M655.94,449.0v7.2M480.3,250.05h-7.2M855.0,250.05h7.2M679.36,74.5v-7.2M679.36,449.0v7.2M480.3,273.45h-7.2M855.0,273.45h7.2M691.07,74.5v-7.2M691.07,449.0v7.2M480.3,285.16h-7.2M855.0,285.16h7.2M702.78,74.5v-7.2M702.78,449.0v7.2M480.3,296.86h-7.2M855.0,296.86h7.2M714.49,74.5v-7.2M714.49,449.0v7.2M480.3,308.56h-7.2M855.0,308.56h7.2M726.20,74.5v-7.2M726.20,449.0v7.2M480.3,320.27h-7.2M855.0,320.27h7.2M737.91,74.5v-7.2M737.91,449.0v7.2M480.3,331.97h-7.2M855.0,331.97h7.2M749.62,74.5v-7.2M749.62,449.0v7.2M480.3,343.67h-7.2M855.0,343.67h7.2M773.03,74.5v-7.2M773.03,449.0v7.2M480.3,367.08h-7.2M855.0,367.08h7.2M784.74,74.5v-7.2M784.74,449.0v7.2M480.3,378.78h-7.2M855.0,378.78h7.2M796.45,74.5v-7.2M796.45,449.0v7.2M480.3,390.48h-7.2M855.0,390.48h7.2M808.16,74.5v-7.2M808.16,449.0v7.2M480.3,402.19h-7.2M855.0,402.19h7.2M819.87,74.5v-7.2M819.87,449.0v7.2M480.3,413.89h-7.2M855.0,413.89h7.2M831.58,74.5v-7.2M831.58,449.0v7.2M480.3,425.59h-7.2M855.0,425.59h7.2M843.29,74.5v-7.2M843.29,449.0v7.2M480.3,437.30h-7.2M855.0,437.30h7.2" stroke="#000" stroke-width="1.25" fill="none"/>
<text transform="scale(1.0,1)" x="59.3" y="499.6" font-size="27.4" text-anchor="middle">−8</text>
<text transform="scale(1.0,1)" x="480.3" y="499.6" font-size="27.4" text-anchor="middle">−8</text>
<text transform="scale(1.0,1)" x="152.8" y="499.6" font-size="27.4" text-anchor="middle">−4</text>
<text transform="scale(1.0,1)" x="574.0" y="499.6" font-size="27.4" text-anchor="middle">−4</text>
<text transform="scale(1.0,1)" x="246.4" y="499.6" font-size="27.4" text-anchor="middle">0</text>
<text transform="scale(1.0,1)" x="667.6" y="499.6" font-size="27.4" text-anchor="middle">0</text>
<text transform="scale(1.0,1)" x="339.9" y="499.6" font-size="27.4" text-anchor="middle">4</text>
<text transform="scale(1.0,1)" x="761.3" y="499.6" font-size="27.4" text-anchor="middle">4</text>
<text transform="scale(1.0,1)" x="433.5" y="499.6" font-size="27.4" text-anchor="middle">8</text>
<text transform="scale(1.0,1)" x="855.0" y="499.6" font-size="27.4" text-anchor="middle">8</text>
<text transform="scale(1.0,1)" x="32.0" y="84.7" font-size="27.4" text-anchor="end">8</text>
<text transform="scale(1.0,1)" x="32.0" y="178.3" font-size="27.4" text-anchor="end">4</text>
<text transform="scale(1.0,1)" x="32.0" y="271.9" font-size="27.4" text-anchor="end">0</text>
<text transform="scale(1.0,1)" x="32.0" y="365.6" font-size="27.4" text-anchor="end">−4</text>
<text transform="scale(1.0,1)" x="32.0" y="459.2" font-size="27.4" text-anchor="end">−8</text>
<rect x="58.9" y="509.3" width="100" height="9.599999999999966" fill="#000"/>
<rect x="58.90" y="509.3" width="9.40" height="9.599999999999966" fill="rgb(0,0,0)"/>
<rect x="68.00" y="509.3" width="9.40" height="9.599999999999966" fill="rgb(0,0,0)"/>
<rect x="77.10" y="509.3" width="9.40" height="9.599999999999966" fill="rgb(0,0,0)"/>
<rect x="86.21" y="509.3" width="9.40" height="9.599999999999966" fill="rgb(0,0,0)"/>
<rect x="95.31" y="509.3" width="9.40" height="9.599999999999966" fill="rgb(0,0,0)"/>
<rect x="104.41" y="509.3" width="9.40" height="9.599999999999966" fill="rgb(0,0,0)"/>
<rect x="113.51" y="509.3" width="9.40" height="9.599999999999966" fill="rgb(0,0,0)"/>
<rect x="122.62" y="509.3" width="9.40" height="9.599999999999966" fill="rgb(0,0,0)"/>
<rect x="131.72" y="509.3" width="9.40" height="9.599999999999966" fill="rgb(0,0,0)"/>
<rect x="140.82" y="509.3" width="9.40" height="9.599999999999966" fill="rgb(0,0,0)"/>
<rect x="149.92" y="509.3" width="9.40" height="9.599999999999966" fill="rgb(10,10,10)"/>
<rect x="159.03" y="509.3" width="9.40" height="9.599999999999966" fill="rgb(19,19,19)"/>
<rect x="168.13" y="509.3" width="9.40" height="9.599999999999966" fill="rgb(29,29,29)"/>
<rect x="177.23" y="509.3" width="9.40" height="9.599999999999966" fill="rgb(38,38,38)"/>
<rect x="186.33" y="509.3" width="9.40" height="9.599999999999966" fill="rgb(48,48,48)"/>
<rect x="195.44" y="509.3" width="9.40" height="9.599999999999966" fill="rgb(58,58,58)"/>
<rect x="204.54" y="509.3" width="9.40" height="9.599999999999966" fill="rgb(67,67,67)"/>
<rect x="213.64" y="509.3" width="9.40" height="9.599999999999966" fill="rgb(77,77,77)"/>
<rect x="222.74" y="509.3" width="9.40" height="9.599999999999966" fill="rgb(86,86,86)"/>
<rect x="231.85" y="509.3" width="9.40" height="9.599999999999966" fill="rgb(96,96,96)"/>
<rect x="240.95" y="509.3" width="9.40" height="9.599999999999966" fill="rgb(105,105,105)"/>
<rect x="250.05" y="509.3" width="9.40" height="9.599999999999966" fill="rgb(115,115,115)"/>
<rect x="259.15" y="509.3" width="9.40" height="9.599999999999966" fill="rgb(125,125,125)"/>
<rect x="268.26" y="509.3" width="9.40" height="9.599999999999966" fill="rgb(134,134,134)"/>
<rect x="277.36" y="509.3" width="9.40" height="9.599999999999966" fill="rgb(144,144,144)"/>
<rect x="286.46" y="509.3" width="9.40" height="9.599999999999966" fill="rgb(153,153,153)"/>
<rect x="295.56" y="509.3" width="9.40" height="9.599999999999966" fill="rgb(163,163,163)"/>
<rect x="304.67" y="509.3" width="9.40" height="9.599999999999966" fill="rgb(173,173,173)"/>
<rect x="313.77" y="509.3" width="9.40" height="9.599999999999966" fill="rgb(182,182,182)"/>
<rect x="322.87" y="509.3" width="9.40" height="9.599999999999966" fill="rgb(192,192,192)"/>
<rect x="331.97" y="509.3" width="9.40" height="9.599999999999966" fill="rgb(201,201,201)"/>
<rect x="341.08" y="509.3" width="9.40" height="9.599999999999966" fill="rgb(211,211,211)"/>
<rect x="350.18" y="509.3" width="9.40" height="9.599999999999966" fill="rgb(220,220,220)"/>
<rect x="359.28" y="509.3" width="9.40" height="9.599999999999966" fill="rgb(230,230,230)"/>
<rect x="368.38" y="509.3" width="9.40" height="9.599999999999966" fill="rgb(240,240,240)"/>
<rect x="377.49" y="509.3" width="9.40" height="9.599999999999966" fill="rgb(249,249,249)"/>
<path d="M386.59,509.3L396.39,514.1L386.59,518.9Z" fill="#ffe800"/>
<path d="M68.00,509.3V518.9M77.10,509.3V518.9M86.21,509.3V518.9M95.31,509.3V518.9M104.41,509.3V518.9M113.51,509.3V518.9M122.62,509.3V518.9M131.72,509.3V518.9M140.82,509.3V518.9M149.92,509.3V518.9M159.03,509.3V518.9M168.13,509.3V518.9M177.23,509.3V518.9M186.33,509.3V518.9M195.44,509.3V518.9M204.54,509.3V518.9M213.64,509.3V518.9M222.74,509.3V518.9M231.85,509.3V518.9M240.95,509.3V518.9M250.05,509.3V518.9M259.15,509.3V518.9M268.26,509.3V518.9M277.36,509.3V518.9M286.46,509.3V518.9M295.56,509.3V518.9M304.67,509.3V518.9M313.77,509.3V518.9M322.87,509.3V518.9M331.97,509.3V518.9M341.08,509.3V518.9M350.18,509.3V518.9M359.28,509.3V518.9M368.38,509.3V518.9M377.49,509.3V518.9M386.59,509.3V518.9" stroke="#000" stroke-opacity="0.8" stroke-width="1.2" fill="none"/>
<path d="M58.9,509.3H386.59L396.39,514.1L386.59,518.9H58.9Z" fill="none" stroke="#000" stroke-width="1.8" stroke-linejoin="miter"/>
<path d="M58.90,518.9V533.6M104.41,518.9V533.6M149.92,518.9V533.6M195.44,518.9V533.6M240.95,518.9V533.6M286.46,518.9V533.6M331.97,518.9V533.6M377.49,518.9V533.6" stroke="#000" stroke-width="2" fill="none"/>
<path d="M67.05,518.9h1.9L68.30,527h-0.6ZM76.15,518.9h1.9L77.40,527h-0.6ZM85.26,518.9h1.9L86.51,527h-0.6ZM94.36,518.9h1.9L95.61,527h-0.6ZM112.56,518.9h1.9L113.81,527h-0.6ZM121.67,518.9h1.9L122.92,527h-0.6ZM130.77,518.9h1.9L132.02,527h-0.6ZM139.87,518.9h1.9L141.12,527h-0.6ZM158.08,518.9h1.9L159.33,527h-0.6ZM167.18,518.9h1.9L168.43,527h-0.6ZM176.28,518.9h1.9L177.53,527h-0.6ZM185.38,518.9h1.9L186.63,527h-0.6ZM203.59,518.9h1.9L204.84,527h-0.6ZM212.69,518.9h1.9L213.94,527h-0.6ZM221.79,518.9h1.9L223.04,527h-0.6ZM230.90,518.9h1.9L232.15,527h-0.6ZM249.10,518.9h1.9L250.35,527h-0.6ZM258.20,518.9h1.9L259.45,527h-0.6ZM267.31,518.9h1.9L268.56,527h-0.6ZM276.41,518.9h1.9L277.66,527h-0.6ZM294.61,518.9h1.9L295.86,527h-0.6ZM303.72,518.9h1.9L304.97,527h-0.6ZM312.82,518.9h1.9L314.07,527h-0.6ZM321.92,518.9h1.9L323.17,527h-0.6ZM340.13,518.9h1.9L341.38,527h-0.6ZM349.23,518.9h1.9L350.48,527h-0.6ZM358.33,518.9h1.9L359.58,527h-0.6ZM367.43,518.9h1.9L368.68,527h-0.6ZM385.64,518.9h1.9L386.89,527h-0.6Z" fill="#000"/>
<text transform="scale(1.0,1)" x="58.9" y="569.6" font-size="27.4" text-anchor="middle">0</text>
<text transform="scale(1.0,1)" x="104.4" y="569.6" font-size="27.4" text-anchor="middle">2.5</text>
<text transform="scale(1.0,1)" x="149.9" y="569.6" font-size="27.4" text-anchor="middle">5</text>
<text transform="scale(1.0,1)" x="195.4" y="569.6" font-size="27.4" text-anchor="middle">7.5</text>
<text transform="scale(1.0,1)" x="240.9" y="569.6" font-size="27.4" text-anchor="middle">10</text>
<text transform="scale(1.0,1)" x="286.5" y="569.6" font-size="27.4" text-anchor="middle">12.5</text>
<text transform="scale(1.0,1)" x="332.0" y="569.6" font-size="27.4" text-anchor="middle">15</text>
<text transform="scale(1.0,1)" x="377.5" y="569.6" font-size="27.4" text-anchor="middle">17.5</text>
<rect x="481.18" y="509.3" width="8.89" height="9.599999999999966" fill="#e0ffff"/>
<rect x="489.77" y="509.3" width="8.89" height="9.599999999999966" fill="#b4ffff"/>
<rect x="498.35" y="509.3" width="8.89" height="9.599999999999966" fill="#a0fffa"/>
<rect x="506.94" y="509.3" width="8.89" height="9.599999999999966" fill="#84ffff"/>
<rect x="515.52" y="509.3" width="8.89" height="9.599999999999966" fill="#70f8f8"/>
<rect x="524.11" y="509.3" width="8.89" height="9.599999999999966" fill="#50e0f8"/>
<rect x="532.69" y="509.3" width="8.89" height="9.599999999999966" fill="#40c0f8"/>
<rect x="541.28" y="509.3" width="8.89" height="9.599999999999966" fill="#30a8f8"/>
<rect x="549.87" y="509.3" width="8.89" height="9.599999999999966" fill="#2090f8"/>
<rect x="558.45" y="509.3" width="8.89" height="9.599999999999966" fill="#1070f8"/>
<rect x="567.03" y="509.3" width="8.89" height="9.599999999999966" fill="#1060f0"/>
<rect x="575.62" y="509.3" width="8.89" height="9.599999999999966" fill="#0850f0"/>
<rect x="584.20" y="509.3" width="8.89" height="9.599999999999966" fill="#0020ff"/>
<rect x="592.79" y="509.3" width="8.89" height="9.599999999999966" fill="#0010ff"/>
<rect x="601.38" y="509.3" width="8.89" height="9.599999999999966" fill="#0010e0"/>
<rect x="609.96" y="509.3" width="8.89" height="9.599999999999966" fill="#0000c8"/>
<rect x="618.54" y="509.3" width="8.89" height="9.599999999999966" fill="#0000a8"/>
<rect x="627.13" y="509.3" width="8.89" height="9.599999999999966" fill="#000090"/>
<rect x="635.71" y="509.3" width="8.89" height="9.599999999999966" fill="#000070"/>
<rect x="644.30" y="509.3" width="8.89" height="9.599999999999966" fill="#f00000"/>
<rect x="652.88" y="509.3" width="8.89" height="9.599999999999966" fill="#ff2000"/>
<rect x="661.47" y="509.3" width="8.89" height="9.599999999999966" fill="#ff4000"/>
<rect x="670.05" y="509.3" width="8.89" height="9.599999999999966" fill="#ff5800"/>
<rect x="678.64" y="509.3" width="8.89" height="9.599999999999966" fill="#ff7000"/>
<rect x="687.22" y="509.3" width="8.89" height="9.599999999999966" fill="#ff8000"/>
<rect x="695.81" y="509.3" width="8.89" height="9.599999999999966" fill="#ff9010"/>
<rect x="704.39" y="509.3" width="8.89" height="9.599999999999966" fill="#ffa010"/>
<rect x="712.98" y="509.3" width="8.89" height="9.599999999999966" fill="#ffc020"/>
<rect x="721.56" y="509.3" width="8.89" height="9.599999999999966" fill="#ffd030"/>
<rect x="730.15" y="509.3" width="8.89" height="9.599999999999966" fill="#ffe040"/>
<rect x="738.73" y="509.3" width="8.89" height="9.599999999999966" fill="#fff850"/>
<rect x="747.32" y="509.3" width="8.89" height="9.599999999999966" fill="#ffff60"/>
<rect x="755.90" y="509.3" width="8.89" height="9.599999999999966" fill="#ffff70"/>
<rect x="764.49" y="509.3" width="8.89" height="9.599999999999966" fill="#ffff80"/>
<rect x="773.08" y="509.3" width="8.89" height="9.599999999999966" fill="#ffff98"/>
<rect x="781.66" y="509.3" width="8.89" height="9.599999999999966" fill="#ffffb0"/>
<rect x="790.25" y="509.3" width="8.89" height="9.599999999999966" fill="#ffffc0"/>
<rect x="798.83" y="509.3" width="8.89" height="9.599999999999966" fill="#ffffd0"/>
<path d="M481.18,509.3L471.68,514.1L481.18,518.9Z" fill="#f0ffff"/>
<path d="M807.41,509.3L816.91,514.1L807.41,518.9Z" fill="#fffff0"/>
<path d="M489.77,509.3V518.9M498.35,509.3V518.9M506.94,509.3V518.9M515.52,509.3V518.9M524.11,509.3V518.9M532.69,509.3V518.9M541.28,509.3V518.9M549.87,509.3V518.9M558.45,509.3V518.9M567.03,509.3V518.9M575.62,509.3V518.9M584.20,509.3V518.9M592.79,509.3V518.9M601.38,509.3V518.9M609.96,509.3V518.9M618.54,509.3V518.9M627.13,509.3V518.9M635.71,509.3V518.9M644.30,509.3V518.9M652.88,509.3V518.9M661.47,509.3V518.9M670.05,509.3V518.9M678.64,509.3V518.9M687.22,509.3V518.9M695.81,509.3V518.9M704.39,509.3V518.9M712.98,509.3V518.9M721.56,509.3V518.9M730.15,509.3V518.9M738.73,509.3V518.9M747.32,509.3V518.9M755.90,509.3V518.9M764.49,509.3V518.9M773.08,509.3V518.9M781.66,509.3V518.9M790.25,509.3V518.9M798.83,509.3V518.9" stroke="#000" stroke-opacity="0.85" stroke-width="1.2" fill="none"/>
<path d="M481.18,509.3H807.41L816.91,514.1L807.41,518.9H481.18L471.68,514.1Z" fill="none" stroke="#000" stroke-width="1.8"/>
<path d="M506.94,518.9V533.6M575.62,518.9V533.6M644.30,518.9V533.6M712.98,518.9V533.6M781.66,518.9V533.6" stroke="#000" stroke-width="2" fill="none"/>
<path d="M480.23,518.9h1.9L481.48,526.6h-0.6ZM488.82,518.9h1.9L490.07,526.6h-0.6ZM497.40,518.9h1.9L498.65,526.6h-0.6ZM514.57,518.9h1.9L515.82,526.6h-0.6ZM523.16,518.9h1.9L524.41,526.6h-0.6ZM531.74,518.9h1.9L532.99,526.6h-0.6ZM540.33,518.9h1.9L541.58,526.6h-0.6ZM548.91,518.9h1.9L550.16,526.6h-0.6ZM557.50,518.9h1.9L558.75,526.6h-0.6ZM566.08,518.9h1.9L567.33,526.6h-0.6ZM583.25,518.9h1.9L584.50,526.6h-0.6ZM591.84,518.9h1.9L593.09,526.6h-0.6ZM600.42,518.9h1.9L601.67,526.6h-0.6ZM609.01,518.9h1.9L610.26,526.6h-0.6ZM617.59,518.9h1.9L618.84,526.6h-0.6ZM626.18,518.9h1.9L627.43,526.6h-0.6ZM634.76,518.9h1.9L636.01,526.6h-0.6ZM651.93,518.9h1.9L653.18,526.6h-0.6ZM660.52,518.9h1.9L661.77,526.6h-0.6ZM669.10,518.9h1.9L670.35,526.6h-0.6ZM677.69,518.9h1.9L678.94,526.6h-0.6ZM686.27,518.9h1.9L687.52,526.6h-0.6ZM694.86,518.9h1.9L696.11,526.6h-0.6ZM703.44,518.9h1.9L704.69,526.6h-0.6ZM720.61,518.9h1.9L721.86,526.6h-0.6ZM729.20,518.9h1.9L730.45,526.6h-0.6ZM737.78,518.9h1.9L739.03,526.6h-0.6ZM746.37,518.9h1.9L747.62,526.6h-0.6ZM754.95,518.9h1.9L756.20,526.6h-0.6ZM763.54,518.9h1.9L764.79,526.6h-0.6ZM772.12,518.9h1.9L773.37,526.6h-0.6ZM789.29,518.9h1.9L790.54,526.6h-0.6ZM797.88,518.9h1.9L799.13,526.6h-0.6ZM806.46,518.9h1.9L807.71,526.6h-0.6Z" fill="#000"/>
<text transform="scale(1.0,1)" x="506.9" y="569.6" font-size="27.4" text-anchor="middle">−8</text>
<text transform="scale(1.0,1)" x="575.6" y="569.6" font-size="27.4" text-anchor="middle">−4</text>
<text transform="scale(1.0,1)" x="644.3" y="569.6" font-size="27.4" text-anchor="middle">0</text>
<text transform="scale(1.0,1)" x="713.0" y="569.6" font-size="27.4" text-anchor="middle">4</text>
<text transform="scale(1.0,1)" x="781.7" y="569.6" font-size="27.4" text-anchor="middle">8</text>
</svg>
</body></html>
